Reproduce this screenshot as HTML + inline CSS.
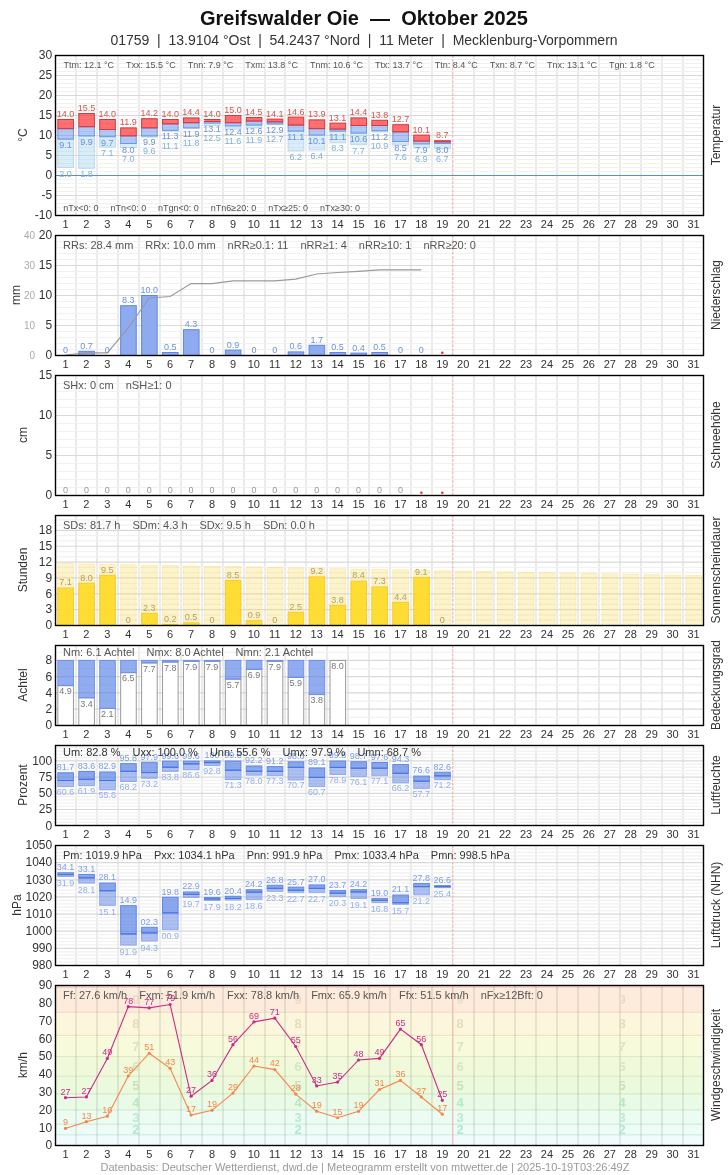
<!DOCTYPE html>
<html><head><meta charset="utf-8"><title>Greifswalder Oie — Oktober 2025</title><style>html,body{margin:0;padding:0;background:#fff;width:728px;height:1175px;overflow:hidden}svg{display:block;will-change:transform}</style></head><body>
<svg width="728" height="1175" viewBox="0 0 728 1175" font-family='"Liberation Sans", Arial, sans-serif'>
<rect width="728" height="1175" fill="#fff"/>
<text x="364" y="24.8" font-size="20" font-weight="bold" fill="#111" text-anchor="middle" xml:space="preserve">Greifswalder Oie  —  Oktober 2025</text>
<text x="364" y="44.6" font-size="14" fill="#333" text-anchor="middle" xml:space="preserve">01759  |  13.9104 °Ost  |  54.2437 °Nord  |  11 Meter  |  Mecklenburg-Vorpommern</text>
<line x1="76" y1="55" x2="76" y2="215" stroke="#ebebeb" stroke-width="2"/>
<line x1="97" y1="55" x2="97" y2="215" stroke="#ebebeb" stroke-width="2"/>
<line x1="118" y1="55" x2="118" y2="215" stroke="#ebebeb" stroke-width="2"/>
<line x1="139" y1="55" x2="139" y2="215" stroke="#ebebeb" stroke-width="2"/>
<line x1="160" y1="55" x2="160" y2="215" stroke="#ebebeb" stroke-width="2"/>
<line x1="181" y1="55" x2="181" y2="215" stroke="#ebebeb" stroke-width="2"/>
<line x1="202" y1="55" x2="202" y2="215" stroke="#ebebeb" stroke-width="2"/>
<line x1="223" y1="55" x2="223" y2="215" stroke="#ebebeb" stroke-width="2"/>
<line x1="244" y1="55" x2="244" y2="215" stroke="#ebebeb" stroke-width="2"/>
<line x1="265" y1="55" x2="265" y2="215" stroke="#ebebeb" stroke-width="2"/>
<line x1="285" y1="55" x2="285" y2="215" stroke="#ebebeb" stroke-width="2"/>
<line x1="306" y1="55" x2="306" y2="215" stroke="#ebebeb" stroke-width="2"/>
<line x1="327" y1="55" x2="327" y2="215" stroke="#ebebeb" stroke-width="2"/>
<line x1="348" y1="55" x2="348" y2="215" stroke="#ebebeb" stroke-width="2"/>
<line x1="369" y1="55" x2="369" y2="215" stroke="#ebebeb" stroke-width="2"/>
<line x1="390" y1="55" x2="390" y2="215" stroke="#ebebeb" stroke-width="2"/>
<line x1="411" y1="55" x2="411" y2="215" stroke="#ebebeb" stroke-width="2"/>
<line x1="432" y1="55" x2="432" y2="215" stroke="#ebebeb" stroke-width="2"/>
<line x1="474" y1="55" x2="474" y2="215" stroke="#ebebeb" stroke-width="2"/>
<line x1="494" y1="55" x2="494" y2="215" stroke="#ebebeb" stroke-width="2"/>
<line x1="515" y1="55" x2="515" y2="215" stroke="#ebebeb" stroke-width="2"/>
<line x1="536" y1="55" x2="536" y2="215" stroke="#ebebeb" stroke-width="2"/>
<line x1="557" y1="55" x2="557" y2="215" stroke="#ebebeb" stroke-width="2"/>
<line x1="578" y1="55" x2="578" y2="215" stroke="#ebebeb" stroke-width="2"/>
<line x1="599" y1="55" x2="599" y2="215" stroke="#ebebeb" stroke-width="2"/>
<line x1="620" y1="55" x2="620" y2="215" stroke="#ebebeb" stroke-width="2"/>
<line x1="641" y1="55" x2="641" y2="215" stroke="#ebebeb" stroke-width="2"/>
<line x1="662" y1="55" x2="662" y2="215" stroke="#ebebeb" stroke-width="2"/>
<line x1="683" y1="55" x2="683" y2="215" stroke="#ebebeb" stroke-width="2"/>
<line x1="57.0" y1="211.50" x2="702.0" y2="211.50" stroke="#f1f1f1" stroke-width="1.2"/>
<line x1="57.0" y1="207.50" x2="702.0" y2="207.50" stroke="#f1f1f1" stroke-width="1.2"/>
<line x1="57.0" y1="203.50" x2="702.0" y2="203.50" stroke="#f1f1f1" stroke-width="1.2"/>
<line x1="57.0" y1="199.50" x2="702.0" y2="199.50" stroke="#f1f1f1" stroke-width="1.2"/>
<line x1="57.0" y1="191.50" x2="702.0" y2="191.50" stroke="#f1f1f1" stroke-width="1.2"/>
<line x1="57.0" y1="187.50" x2="702.0" y2="187.50" stroke="#f1f1f1" stroke-width="1.2"/>
<line x1="57.0" y1="183.50" x2="702.0" y2="183.50" stroke="#f1f1f1" stroke-width="1.2"/>
<line x1="57.0" y1="179.50" x2="702.0" y2="179.50" stroke="#f1f1f1" stroke-width="1.2"/>
<line x1="57.0" y1="171.50" x2="702.0" y2="171.50" stroke="#f1f1f1" stroke-width="1.2"/>
<line x1="57.0" y1="167.50" x2="702.0" y2="167.50" stroke="#f1f1f1" stroke-width="1.2"/>
<line x1="57.0" y1="163.50" x2="702.0" y2="163.50" stroke="#f1f1f1" stroke-width="1.2"/>
<line x1="57.0" y1="159.50" x2="702.0" y2="159.50" stroke="#f1f1f1" stroke-width="1.2"/>
<line x1="57.0" y1="151.50" x2="702.0" y2="151.50" stroke="#f1f1f1" stroke-width="1.2"/>
<line x1="57.0" y1="147.50" x2="702.0" y2="147.50" stroke="#f1f1f1" stroke-width="1.2"/>
<line x1="57.0" y1="143.50" x2="702.0" y2="143.50" stroke="#f1f1f1" stroke-width="1.2"/>
<line x1="57.0" y1="139.50" x2="702.0" y2="139.50" stroke="#f1f1f1" stroke-width="1.2"/>
<line x1="57.0" y1="131.50" x2="702.0" y2="131.50" stroke="#f1f1f1" stroke-width="1.2"/>
<line x1="57.0" y1="127.50" x2="702.0" y2="127.50" stroke="#f1f1f1" stroke-width="1.2"/>
<line x1="57.0" y1="123.50" x2="702.0" y2="123.50" stroke="#f1f1f1" stroke-width="1.2"/>
<line x1="57.0" y1="119.50" x2="702.0" y2="119.50" stroke="#f1f1f1" stroke-width="1.2"/>
<line x1="57.0" y1="111.50" x2="702.0" y2="111.50" stroke="#f1f1f1" stroke-width="1.2"/>
<line x1="57.0" y1="107.50" x2="702.0" y2="107.50" stroke="#f1f1f1" stroke-width="1.2"/>
<line x1="57.0" y1="103.50" x2="702.0" y2="103.50" stroke="#f1f1f1" stroke-width="1.2"/>
<line x1="57.0" y1="99.50" x2="702.0" y2="99.50" stroke="#f1f1f1" stroke-width="1.2"/>
<line x1="57.0" y1="91.50" x2="702.0" y2="91.50" stroke="#f1f1f1" stroke-width="1.2"/>
<line x1="57.0" y1="87.50" x2="702.0" y2="87.50" stroke="#f1f1f1" stroke-width="1.2"/>
<line x1="57.0" y1="83.50" x2="702.0" y2="83.50" stroke="#f1f1f1" stroke-width="1.2"/>
<line x1="57.0" y1="79.50" x2="702.0" y2="79.50" stroke="#f1f1f1" stroke-width="1.2"/>
<line x1="57.0" y1="71.50" x2="702.0" y2="71.50" stroke="#f1f1f1" stroke-width="1.2"/>
<line x1="57.0" y1="67.50" x2="702.0" y2="67.50" stroke="#f1f1f1" stroke-width="1.2"/>
<line x1="57.0" y1="63.50" x2="702.0" y2="63.50" stroke="#f1f1f1" stroke-width="1.2"/>
<line x1="57.0" y1="59.50" x2="702.0" y2="59.50" stroke="#f1f1f1" stroke-width="1.2"/>
<line x1="55.0" y1="195.50" x2="704.0" y2="195.50" stroke="#d9d9d9" stroke-width="1.2"/>
<line x1="55.0" y1="175.50" x2="704.0" y2="175.50" stroke="#d9d9d9" stroke-width="1.2"/>
<line x1="55.0" y1="155.50" x2="704.0" y2="155.50" stroke="#d9d9d9" stroke-width="1.2"/>
<line x1="55.0" y1="135.50" x2="704.0" y2="135.50" stroke="#d9d9d9" stroke-width="1.2"/>
<line x1="55.0" y1="115.50" x2="704.0" y2="115.50" stroke="#d9d9d9" stroke-width="1.2"/>
<line x1="55.0" y1="95.50" x2="704.0" y2="95.50" stroke="#d9d9d9" stroke-width="1.2"/>
<line x1="55.0" y1="75.50" x2="704.0" y2="75.50" stroke="#d9d9d9" stroke-width="1.2"/>
<line x1="452.77" y1="55" x2="452.77" y2="215" stroke="#f3adad" stroke-width="1.1" stroke-dasharray="3,1.2"/>
<line x1="55.0" y1="175.50" x2="704.0" y2="175.50" stroke="#5a8ae6" stroke-width="1.2"/>
<rect x="57.85" y="139.10" width="15.6" height="28.40" fill="rgba(170,214,240,0.45)" stroke="#b8daee" stroke-width="1"/>
<rect x="57.85" y="128.70" width="15.6" height="10.40" fill="rgba(100,145,235,0.5)" stroke="#6f96e6" stroke-width="1"/>
<rect x="57.85" y="119.50" width="15.6" height="9.20" fill="rgba(255,40,40,0.67)" stroke="#d0393f" stroke-width="1"/>
<rect x="78.79" y="135.90" width="15.6" height="32.40" fill="rgba(170,214,240,0.45)" stroke="#b8daee" stroke-width="1"/>
<rect x="78.79" y="126.70" width="15.6" height="9.20" fill="rgba(100,145,235,0.5)" stroke="#6f96e6" stroke-width="1"/>
<rect x="78.79" y="113.50" width="15.6" height="13.20" fill="rgba(255,40,40,0.67)" stroke="#d0393f" stroke-width="1"/>
<rect x="99.72" y="136.70" width="15.6" height="10.40" fill="rgba(170,214,240,0.45)" stroke="#b8daee" stroke-width="1"/>
<rect x="99.72" y="129.50" width="15.6" height="7.20" fill="rgba(100,145,235,0.5)" stroke="#6f96e6" stroke-width="1"/>
<rect x="99.72" y="119.50" width="15.6" height="10.00" fill="rgba(255,40,40,0.67)" stroke="#d0393f" stroke-width="1"/>
<rect x="120.66" y="143.50" width="15.6" height="4.00" fill="rgba(170,214,240,0.45)" stroke="#b8daee" stroke-width="1"/>
<rect x="120.66" y="135.90" width="15.6" height="7.60" fill="rgba(100,145,235,0.5)" stroke="#6f96e6" stroke-width="1"/>
<rect x="120.66" y="127.90" width="15.6" height="8.00" fill="rgba(255,40,40,0.67)" stroke="#d0393f" stroke-width="1"/>
<rect x="141.59" y="135.90" width="15.6" height="1.20" fill="rgba(170,214,240,0.45)" stroke="#b8daee" stroke-width="1"/>
<rect x="141.59" y="127.90" width="15.6" height="8.00" fill="rgba(100,145,235,0.5)" stroke="#6f96e6" stroke-width="1"/>
<rect x="141.59" y="118.70" width="15.6" height="9.20" fill="rgba(255,40,40,0.67)" stroke="#d0393f" stroke-width="1"/>
<rect x="162.53" y="130.30" width="15.6" height="0.80" fill="rgba(170,214,240,0.45)" stroke="#b8daee" stroke-width="1"/>
<rect x="162.53" y="123.90" width="15.6" height="6.40" fill="rgba(100,145,235,0.5)" stroke="#6f96e6" stroke-width="1"/>
<rect x="162.53" y="119.50" width="15.6" height="4.40" fill="rgba(255,40,40,0.67)" stroke="#d0393f" stroke-width="1"/>
<rect x="183.46" y="127.90" width="15.6" height="0.40" fill="rgba(170,214,240,0.45)" stroke="#b8daee" stroke-width="1"/>
<rect x="183.46" y="122.70" width="15.6" height="5.20" fill="rgba(100,145,235,0.5)" stroke="#6f96e6" stroke-width="1"/>
<rect x="183.46" y="117.90" width="15.6" height="4.80" fill="rgba(255,40,40,0.67)" stroke="#d0393f" stroke-width="1"/>
<rect x="204.40" y="123.10" width="15.6" height="2.40" fill="rgba(170,214,240,0.45)" stroke="#b8daee" stroke-width="1"/>
<rect x="204.40" y="121.50" width="15.6" height="1.60" fill="rgba(100,145,235,0.5)" stroke="#6f96e6" stroke-width="1"/>
<rect x="204.40" y="119.50" width="15.6" height="2.00" fill="rgba(255,40,40,0.67)" stroke="#d0393f" stroke-width="1"/>
<rect x="225.33" y="125.90" width="15.6" height="3.20" fill="rgba(170,214,240,0.45)" stroke="#b8daee" stroke-width="1"/>
<rect x="225.33" y="122.70" width="15.6" height="3.20" fill="rgba(100,145,235,0.5)" stroke="#6f96e6" stroke-width="1"/>
<rect x="225.33" y="115.50" width="15.6" height="7.20" fill="rgba(255,40,40,0.67)" stroke="#d0393f" stroke-width="1"/>
<rect x="246.27" y="125.10" width="15.6" height="2.80" fill="rgba(170,214,240,0.45)" stroke="#b8daee" stroke-width="1"/>
<rect x="246.27" y="121.10" width="15.6" height="4.00" fill="rgba(100,145,235,0.5)" stroke="#6f96e6" stroke-width="1"/>
<rect x="246.27" y="117.50" width="15.6" height="3.60" fill="rgba(255,40,40,0.67)" stroke="#d0393f" stroke-width="1"/>
<rect x="267.20" y="123.90" width="15.6" height="0.80" fill="rgba(170,214,240,0.45)" stroke="#b8daee" stroke-width="1"/>
<rect x="267.20" y="121.90" width="15.6" height="2.00" fill="rgba(100,145,235,0.5)" stroke="#6f96e6" stroke-width="1"/>
<rect x="267.20" y="119.10" width="15.6" height="2.80" fill="rgba(255,40,40,0.67)" stroke="#d0393f" stroke-width="1"/>
<rect x="288.14" y="131.10" width="15.6" height="19.60" fill="rgba(170,214,240,0.45)" stroke="#b8daee" stroke-width="1"/>
<rect x="288.14" y="125.10" width="15.6" height="6.00" fill="rgba(100,145,235,0.5)" stroke="#6f96e6" stroke-width="1"/>
<rect x="288.14" y="117.10" width="15.6" height="8.00" fill="rgba(255,40,40,0.67)" stroke="#d0393f" stroke-width="1"/>
<rect x="309.08" y="135.10" width="15.6" height="14.80" fill="rgba(170,214,240,0.45)" stroke="#b8daee" stroke-width="1"/>
<rect x="309.08" y="128.70" width="15.6" height="6.40" fill="rgba(100,145,235,0.5)" stroke="#6f96e6" stroke-width="1"/>
<rect x="309.08" y="119.90" width="15.6" height="8.80" fill="rgba(255,40,40,0.67)" stroke="#d0393f" stroke-width="1"/>
<rect x="330.01" y="131.10" width="15.6" height="11.20" fill="rgba(170,214,240,0.45)" stroke="#b8daee" stroke-width="1"/>
<rect x="330.01" y="129.10" width="15.6" height="2.00" fill="rgba(100,145,235,0.5)" stroke="#6f96e6" stroke-width="1"/>
<rect x="330.01" y="123.10" width="15.6" height="6.00" fill="rgba(255,40,40,0.67)" stroke="#d0393f" stroke-width="1"/>
<rect x="350.95" y="133.10" width="15.6" height="11.60" fill="rgba(170,214,240,0.45)" stroke="#b8daee" stroke-width="1"/>
<rect x="350.95" y="125.50" width="15.6" height="7.60" fill="rgba(100,145,235,0.5)" stroke="#6f96e6" stroke-width="1"/>
<rect x="350.95" y="117.90" width="15.6" height="7.60" fill="rgba(255,40,40,0.67)" stroke="#d0393f" stroke-width="1"/>
<rect x="371.88" y="130.70" width="15.6" height="1.20" fill="rgba(170,214,240,0.45)" stroke="#b8daee" stroke-width="1"/>
<rect x="371.88" y="125.50" width="15.6" height="5.20" fill="rgba(100,145,235,0.5)" stroke="#6f96e6" stroke-width="1"/>
<rect x="371.88" y="120.30" width="15.6" height="5.20" fill="rgba(255,40,40,0.67)" stroke="#d0393f" stroke-width="1"/>
<rect x="392.82" y="141.50" width="15.6" height="3.60" fill="rgba(170,214,240,0.45)" stroke="#b8daee" stroke-width="1"/>
<rect x="392.82" y="131.90" width="15.6" height="9.60" fill="rgba(100,145,235,0.5)" stroke="#6f96e6" stroke-width="1"/>
<rect x="392.82" y="124.70" width="15.6" height="7.20" fill="rgba(255,40,40,0.67)" stroke="#d0393f" stroke-width="1"/>
<rect x="413.75" y="143.90" width="15.6" height="4.00" fill="rgba(170,214,240,0.45)" stroke="#b8daee" stroke-width="1"/>
<rect x="413.75" y="141.10" width="15.6" height="2.80" fill="rgba(100,145,235,0.5)" stroke="#6f96e6" stroke-width="1"/>
<rect x="413.75" y="135.10" width="15.6" height="6.00" fill="rgba(255,40,40,0.67)" stroke="#d0393f" stroke-width="1"/>
<rect x="434.69" y="143.50" width="15.6" height="5.20" fill="rgba(170,214,240,0.45)" stroke="#b8daee" stroke-width="1"/>
<rect x="434.69" y="141.90" width="15.6" height="1.60" fill="rgba(100,145,235,0.5)" stroke="#6f96e6" stroke-width="1"/>
<rect x="434.69" y="140.70" width="15.6" height="1.20" fill="rgba(255,40,40,0.67)" stroke="#d0393f" stroke-width="1"/>
<text x="65.47" y="116.90" font-size="9" fill="#d9534f" text-anchor="middle">14.0</text>
<text x="65.47" y="148.20" font-size="9" fill="#6b8fe0" text-anchor="middle">9.1</text>
<text x="65.47" y="176.60" font-size="9" fill="#7fb2d6" text-anchor="middle">2.0</text>
<text x="86.40" y="110.90" font-size="9" fill="#d9534f" text-anchor="middle">15.5</text>
<text x="86.40" y="145.00" font-size="9" fill="#6b8fe0" text-anchor="middle">9.9</text>
<text x="86.40" y="177.40" font-size="9" fill="#7fb2d6" text-anchor="middle">1.8</text>
<text x="107.34" y="116.90" font-size="9" fill="#d9534f" text-anchor="middle">14.0</text>
<text x="107.34" y="145.80" font-size="9" fill="#6b8fe0" text-anchor="middle">9.7</text>
<text x="107.34" y="156.20" font-size="9" fill="#7fb2d6" text-anchor="middle">7.1</text>
<text x="128.27" y="125.30" font-size="9" fill="#d9534f" text-anchor="middle">11.9</text>
<text x="128.27" y="152.60" font-size="9" fill="#6b8fe0" text-anchor="middle">8.0</text>
<text x="128.27" y="161.80" font-size="9" fill="#7fb2d6" text-anchor="middle">7.0</text>
<text x="149.21" y="116.10" font-size="9" fill="#d9534f" text-anchor="middle">14.2</text>
<text x="149.21" y="145.00" font-size="9" fill="#6b8fe0" text-anchor="middle">9.9</text>
<text x="149.21" y="154.20" font-size="9" fill="#7fb2d6" text-anchor="middle">9.6</text>
<text x="170.15" y="116.90" font-size="9" fill="#d9534f" text-anchor="middle">14.0</text>
<text x="170.15" y="139.40" font-size="9" fill="#6b8fe0" text-anchor="middle">11.3</text>
<text x="170.15" y="148.60" font-size="9" fill="#7fb2d6" text-anchor="middle">11.1</text>
<text x="191.08" y="115.30" font-size="9" fill="#d9534f" text-anchor="middle">14.4</text>
<text x="191.08" y="137.00" font-size="9" fill="#6b8fe0" text-anchor="middle">11.9</text>
<text x="191.08" y="146.20" font-size="9" fill="#7fb2d6" text-anchor="middle">11.8</text>
<text x="212.02" y="116.90" font-size="9" fill="#d9534f" text-anchor="middle">14.0</text>
<text x="212.02" y="132.20" font-size="9" fill="#6b8fe0" text-anchor="middle">13.1</text>
<text x="212.02" y="141.40" font-size="9" fill="#7fb2d6" text-anchor="middle">12.5</text>
<text x="232.95" y="112.90" font-size="9" fill="#d9534f" text-anchor="middle">15.0</text>
<text x="232.95" y="135.00" font-size="9" fill="#6b8fe0" text-anchor="middle">12.4</text>
<text x="232.95" y="144.20" font-size="9" fill="#7fb2d6" text-anchor="middle">11.6</text>
<text x="253.89" y="114.90" font-size="9" fill="#d9534f" text-anchor="middle">14.5</text>
<text x="253.89" y="134.20" font-size="9" fill="#6b8fe0" text-anchor="middle">12.6</text>
<text x="253.89" y="143.40" font-size="9" fill="#7fb2d6" text-anchor="middle">11.9</text>
<text x="274.82" y="116.50" font-size="9" fill="#d9534f" text-anchor="middle">14.1</text>
<text x="274.82" y="133.00" font-size="9" fill="#6b8fe0" text-anchor="middle">12.9</text>
<text x="274.82" y="142.20" font-size="9" fill="#7fb2d6" text-anchor="middle">12.7</text>
<text x="295.76" y="114.50" font-size="9" fill="#d9534f" text-anchor="middle">14.6</text>
<text x="295.76" y="140.20" font-size="9" fill="#6b8fe0" text-anchor="middle">11.1</text>
<text x="295.76" y="159.80" font-size="9" fill="#7fb2d6" text-anchor="middle">6.2</text>
<text x="316.69" y="117.30" font-size="9" fill="#d9534f" text-anchor="middle">13.9</text>
<text x="316.69" y="144.20" font-size="9" fill="#6b8fe0" text-anchor="middle">10.1</text>
<text x="316.69" y="159.00" font-size="9" fill="#7fb2d6" text-anchor="middle">6.4</text>
<text x="337.63" y="120.50" font-size="9" fill="#d9534f" text-anchor="middle">13.1</text>
<text x="337.63" y="140.20" font-size="9" fill="#6b8fe0" text-anchor="middle">11.1</text>
<text x="337.63" y="151.40" font-size="9" fill="#7fb2d6" text-anchor="middle">8.3</text>
<text x="358.56" y="115.30" font-size="9" fill="#d9534f" text-anchor="middle">14.4</text>
<text x="358.56" y="142.20" font-size="9" fill="#6b8fe0" text-anchor="middle">10.6</text>
<text x="358.56" y="153.80" font-size="9" fill="#7fb2d6" text-anchor="middle">7.7</text>
<text x="379.50" y="117.70" font-size="9" fill="#d9534f" text-anchor="middle">13.8</text>
<text x="379.50" y="139.80" font-size="9" fill="#6b8fe0" text-anchor="middle">11.2</text>
<text x="379.50" y="149.00" font-size="9" fill="#7fb2d6" text-anchor="middle">10.9</text>
<text x="400.44" y="122.10" font-size="9" fill="#d9534f" text-anchor="middle">12.7</text>
<text x="400.44" y="150.60" font-size="9" fill="#6b8fe0" text-anchor="middle">8.5</text>
<text x="400.44" y="159.80" font-size="9" fill="#7fb2d6" text-anchor="middle">7.6</text>
<text x="421.37" y="132.50" font-size="9" fill="#d9534f" text-anchor="middle">10.1</text>
<text x="421.37" y="153.00" font-size="9" fill="#6b8fe0" text-anchor="middle">7.9</text>
<text x="421.37" y="162.20" font-size="9" fill="#7fb2d6" text-anchor="middle">6.9</text>
<text x="442.31" y="138.10" font-size="9" fill="#d9534f" text-anchor="middle">8.7</text>
<text x="442.31" y="152.60" font-size="9" fill="#6b8fe0" text-anchor="middle">8.0</text>
<text x="442.31" y="161.80" font-size="9" fill="#7fb2d6" text-anchor="middle">6.7</text>
<text x="63.4" y="67.6" font-size="9" fill="#555" xml:space="preserve"><tspan>Ttm: 12.1 °C</tspan><tspan dx="12.0">Txx: 15.5 °C</tspan><tspan dx="12.0">Tnn: 7.9 °C</tspan><tspan dx="12.0">Txm: 13.8 °C</tspan><tspan dx="12.0">Tnm: 10.6 °C</tspan><tspan dx="12.0">Ttx: 13.7 °C</tspan><tspan dx="12.0">Ttn: 8.4 °C</tspan><tspan dx="12.0">Txn: 8.7 °C</tspan><tspan dx="12.0">Tnx: 13.1 °C</tspan><tspan dx="12.0">Tgn: 1.8 °C</tspan></text>
<text x="63.2" y="210.8" font-size="9" fill="#555" xml:space="preserve"><tspan>nTx&lt;0: 0</tspan><tspan dx="11.9">nTn&lt;0: 0</tspan><tspan dx="11.9">nTgn&lt;0: 0</tspan><tspan dx="11.9">nTn6≥20: 0</tspan><tspan dx="11.9">nTx≥25: 0</tspan><tspan dx="11.9">nTx≥30: 0</tspan></text>
<rect x="55.5" y="55.5" width="648.0" height="160" fill="none" stroke="#000" stroke-width="1.4"/>
<text x="52.2" y="59.30" font-size="12" fill="#333" text-anchor="end">30</text>
<text x="52.2" y="79.30" font-size="12" fill="#333" text-anchor="end">25</text>
<text x="52.2" y="99.30" font-size="12" fill="#333" text-anchor="end">20</text>
<text x="52.2" y="119.30" font-size="12" fill="#333" text-anchor="end">15</text>
<text x="52.2" y="139.30" font-size="12" fill="#333" text-anchor="end">10</text>
<text x="52.2" y="159.30" font-size="12" fill="#333" text-anchor="end">5</text>
<text x="52.2" y="179.30" font-size="12" fill="#333" text-anchor="end">0</text>
<text x="52.2" y="199.30" font-size="12" fill="#333" text-anchor="end">-5</text>
<text x="52.2" y="219.30" font-size="12" fill="#333" text-anchor="end">-10</text>
<text transform="translate(27.0,135.0) rotate(-90)" font-size="12" fill="#333" text-anchor="middle">°C</text>
<text transform="translate(719.5,135.0) rotate(-90)" font-size="12" fill="#333" text-anchor="middle">Temperatur</text>
<text x="65.47" y="228.0" font-size="11" fill="#333" text-anchor="middle">1</text>
<text x="86.40" y="228.0" font-size="11" fill="#333" text-anchor="middle">2</text>
<text x="107.34" y="228.0" font-size="11" fill="#333" text-anchor="middle">3</text>
<text x="128.27" y="228.0" font-size="11" fill="#333" text-anchor="middle">4</text>
<text x="149.21" y="228.0" font-size="11" fill="#333" text-anchor="middle">5</text>
<text x="170.15" y="228.0" font-size="11" fill="#333" text-anchor="middle">6</text>
<text x="191.08" y="228.0" font-size="11" fill="#333" text-anchor="middle">7</text>
<text x="212.02" y="228.0" font-size="11" fill="#333" text-anchor="middle">8</text>
<text x="232.95" y="228.0" font-size="11" fill="#333" text-anchor="middle">9</text>
<text x="253.89" y="228.0" font-size="11" fill="#333" text-anchor="middle">10</text>
<text x="274.82" y="228.0" font-size="11" fill="#333" text-anchor="middle">11</text>
<text x="295.76" y="228.0" font-size="11" fill="#333" text-anchor="middle">12</text>
<text x="316.69" y="228.0" font-size="11" fill="#333" text-anchor="middle">13</text>
<text x="337.63" y="228.0" font-size="11" fill="#333" text-anchor="middle">14</text>
<text x="358.56" y="228.0" font-size="11" fill="#333" text-anchor="middle">15</text>
<text x="379.50" y="228.0" font-size="11" fill="#333" text-anchor="middle">16</text>
<text x="400.44" y="228.0" font-size="11" fill="#333" text-anchor="middle">17</text>
<text x="421.37" y="228.0" font-size="11" fill="#333" text-anchor="middle">18</text>
<text x="442.31" y="228.0" font-size="11" fill="#333" text-anchor="middle">19</text>
<text x="463.24" y="228.0" font-size="11" fill="#333" text-anchor="middle">20</text>
<text x="484.18" y="228.0" font-size="11" fill="#333" text-anchor="middle">21</text>
<text x="505.11" y="228.0" font-size="11" fill="#333" text-anchor="middle">22</text>
<text x="526.05" y="228.0" font-size="11" fill="#333" text-anchor="middle">23</text>
<text x="546.98" y="228.0" font-size="11" fill="#333" text-anchor="middle">24</text>
<text x="567.92" y="228.0" font-size="11" fill="#333" text-anchor="middle">25</text>
<text x="588.85" y="228.0" font-size="11" fill="#333" text-anchor="middle">26</text>
<text x="609.79" y="228.0" font-size="11" fill="#333" text-anchor="middle">27</text>
<text x="630.73" y="228.0" font-size="11" fill="#333" text-anchor="middle">28</text>
<text x="651.66" y="228.0" font-size="11" fill="#333" text-anchor="middle">29</text>
<text x="672.60" y="228.0" font-size="11" fill="#333" text-anchor="middle">30</text>
<text x="693.53" y="228.0" font-size="11" fill="#333" text-anchor="middle">31</text>
<line x1="76" y1="235" x2="76" y2="355" stroke="#ebebeb" stroke-width="2"/>
<line x1="97" y1="235" x2="97" y2="355" stroke="#ebebeb" stroke-width="2"/>
<line x1="118" y1="235" x2="118" y2="355" stroke="#ebebeb" stroke-width="2"/>
<line x1="139" y1="235" x2="139" y2="355" stroke="#ebebeb" stroke-width="2"/>
<line x1="160" y1="235" x2="160" y2="355" stroke="#ebebeb" stroke-width="2"/>
<line x1="181" y1="235" x2="181" y2="355" stroke="#ebebeb" stroke-width="2"/>
<line x1="202" y1="235" x2="202" y2="355" stroke="#ebebeb" stroke-width="2"/>
<line x1="223" y1="235" x2="223" y2="355" stroke="#ebebeb" stroke-width="2"/>
<line x1="244" y1="235" x2="244" y2="355" stroke="#ebebeb" stroke-width="2"/>
<line x1="265" y1="235" x2="265" y2="355" stroke="#ebebeb" stroke-width="2"/>
<line x1="285" y1="235" x2="285" y2="355" stroke="#ebebeb" stroke-width="2"/>
<line x1="306" y1="235" x2="306" y2="355" stroke="#ebebeb" stroke-width="2"/>
<line x1="327" y1="235" x2="327" y2="355" stroke="#ebebeb" stroke-width="2"/>
<line x1="348" y1="235" x2="348" y2="355" stroke="#ebebeb" stroke-width="2"/>
<line x1="369" y1="235" x2="369" y2="355" stroke="#ebebeb" stroke-width="2"/>
<line x1="390" y1="235" x2="390" y2="355" stroke="#ebebeb" stroke-width="2"/>
<line x1="411" y1="235" x2="411" y2="355" stroke="#ebebeb" stroke-width="2"/>
<line x1="432" y1="235" x2="432" y2="355" stroke="#ebebeb" stroke-width="2"/>
<line x1="474" y1="235" x2="474" y2="355" stroke="#ebebeb" stroke-width="2"/>
<line x1="494" y1="235" x2="494" y2="355" stroke="#ebebeb" stroke-width="2"/>
<line x1="515" y1="235" x2="515" y2="355" stroke="#ebebeb" stroke-width="2"/>
<line x1="536" y1="235" x2="536" y2="355" stroke="#ebebeb" stroke-width="2"/>
<line x1="557" y1="235" x2="557" y2="355" stroke="#ebebeb" stroke-width="2"/>
<line x1="578" y1="235" x2="578" y2="355" stroke="#ebebeb" stroke-width="2"/>
<line x1="599" y1="235" x2="599" y2="355" stroke="#ebebeb" stroke-width="2"/>
<line x1="620" y1="235" x2="620" y2="355" stroke="#ebebeb" stroke-width="2"/>
<line x1="641" y1="235" x2="641" y2="355" stroke="#ebebeb" stroke-width="2"/>
<line x1="662" y1="235" x2="662" y2="355" stroke="#ebebeb" stroke-width="2"/>
<line x1="683" y1="235" x2="683" y2="355" stroke="#ebebeb" stroke-width="2"/>
<line x1="57.0" y1="349.50" x2="702.0" y2="349.50" stroke="#f1f1f1" stroke-width="1.2"/>
<line x1="57.0" y1="343.50" x2="702.0" y2="343.50" stroke="#f1f1f1" stroke-width="1.2"/>
<line x1="57.0" y1="337.50" x2="702.0" y2="337.50" stroke="#f1f1f1" stroke-width="1.2"/>
<line x1="57.0" y1="331.50" x2="702.0" y2="331.50" stroke="#f1f1f1" stroke-width="1.2"/>
<line x1="57.0" y1="319.50" x2="702.0" y2="319.50" stroke="#f1f1f1" stroke-width="1.2"/>
<line x1="57.0" y1="313.50" x2="702.0" y2="313.50" stroke="#f1f1f1" stroke-width="1.2"/>
<line x1="57.0" y1="307.50" x2="702.0" y2="307.50" stroke="#f1f1f1" stroke-width="1.2"/>
<line x1="57.0" y1="301.50" x2="702.0" y2="301.50" stroke="#f1f1f1" stroke-width="1.2"/>
<line x1="57.0" y1="289.50" x2="702.0" y2="289.50" stroke="#f1f1f1" stroke-width="1.2"/>
<line x1="57.0" y1="283.50" x2="702.0" y2="283.50" stroke="#f1f1f1" stroke-width="1.2"/>
<line x1="57.0" y1="277.50" x2="702.0" y2="277.50" stroke="#f1f1f1" stroke-width="1.2"/>
<line x1="57.0" y1="271.50" x2="702.0" y2="271.50" stroke="#f1f1f1" stroke-width="1.2"/>
<line x1="57.0" y1="259.50" x2="702.0" y2="259.50" stroke="#f1f1f1" stroke-width="1.2"/>
<line x1="57.0" y1="253.50" x2="702.0" y2="253.50" stroke="#f1f1f1" stroke-width="1.2"/>
<line x1="57.0" y1="247.50" x2="702.0" y2="247.50" stroke="#f1f1f1" stroke-width="1.2"/>
<line x1="57.0" y1="241.50" x2="702.0" y2="241.50" stroke="#f1f1f1" stroke-width="1.2"/>
<line x1="55.0" y1="325.50" x2="704.0" y2="325.50" stroke="#d9d9d9" stroke-width="1.2"/>
<line x1="55.0" y1="295.50" x2="704.0" y2="295.50" stroke="#d9d9d9" stroke-width="1.2"/>
<line x1="55.0" y1="265.50" x2="704.0" y2="265.50" stroke="#d9d9d9" stroke-width="1.2"/>
<line x1="452.77" y1="235" x2="452.77" y2="355" stroke="#f3adad" stroke-width="1.1" stroke-dasharray="3,1.2"/>
<rect x="78.79" y="351.30" width="15.6" height="4.20" fill="#8eabf0" stroke="#5f86e4" stroke-width="1"/>
<rect x="120.66" y="305.70" width="15.6" height="49.80" fill="#8eabf0" stroke="#5f86e4" stroke-width="1"/>
<rect x="141.59" y="295.50" width="15.6" height="60.00" fill="#8eabf0" stroke="#5f86e4" stroke-width="1"/>
<rect x="162.53" y="352.50" width="15.6" height="3.00" fill="#8eabf0" stroke="#5f86e4" stroke-width="1"/>
<rect x="183.46" y="329.70" width="15.6" height="25.80" fill="#8eabf0" stroke="#5f86e4" stroke-width="1"/>
<rect x="225.33" y="350.10" width="15.6" height="5.40" fill="#8eabf0" stroke="#5f86e4" stroke-width="1"/>
<rect x="288.14" y="351.90" width="15.6" height="3.60" fill="#8eabf0" stroke="#5f86e4" stroke-width="1"/>
<rect x="309.08" y="345.30" width="15.6" height="10.20" fill="#8eabf0" stroke="#5f86e4" stroke-width="1"/>
<rect x="330.01" y="352.50" width="15.6" height="3.00" fill="#8eabf0" stroke="#5f86e4" stroke-width="1"/>
<rect x="350.95" y="353.10" width="15.6" height="2.40" fill="#8eabf0" stroke="#5f86e4" stroke-width="1"/>
<rect x="371.88" y="352.50" width="15.6" height="3.00" fill="#8eabf0" stroke="#5f86e4" stroke-width="1"/>
<polyline points="65.47,355.00 86.40,352.90 107.34,352.90 128.27,328.00 149.21,298.00 170.15,296.50 191.08,283.60 212.02,283.60 232.95,280.90 253.89,280.90 274.82,280.90 295.76,279.10 316.69,274.00 337.63,272.50 358.56,271.30 379.50,269.80 400.44,269.80 421.37,269.80" fill="none" stroke="#999" stroke-width="1.2"/>
<text x="65.47" y="352.90" font-size="9" fill="#6d8fe8" text-anchor="middle">0</text>
<text x="86.40" y="348.70" font-size="9" fill="#6d8fe8" text-anchor="middle">0.7</text>
<text x="107.34" y="352.90" font-size="9" fill="#6d8fe8" text-anchor="middle">0</text>
<text x="128.27" y="303.10" font-size="9" fill="#6d8fe8" text-anchor="middle">8.3</text>
<text x="149.21" y="292.90" font-size="9" fill="#6d8fe8" text-anchor="middle">10.0</text>
<text x="170.15" y="349.90" font-size="9" fill="#6d8fe8" text-anchor="middle">0.5</text>
<text x="191.08" y="327.10" font-size="9" fill="#6d8fe8" text-anchor="middle">4.3</text>
<text x="212.02" y="352.90" font-size="9" fill="#6d8fe8" text-anchor="middle">0</text>
<text x="232.95" y="347.50" font-size="9" fill="#6d8fe8" text-anchor="middle">0.9</text>
<text x="253.89" y="352.90" font-size="9" fill="#6d8fe8" text-anchor="middle">0</text>
<text x="274.82" y="352.90" font-size="9" fill="#6d8fe8" text-anchor="middle">0</text>
<text x="295.76" y="349.30" font-size="9" fill="#6d8fe8" text-anchor="middle">0.6</text>
<text x="316.69" y="342.70" font-size="9" fill="#6d8fe8" text-anchor="middle">1.7</text>
<text x="337.63" y="349.90" font-size="9" fill="#6d8fe8" text-anchor="middle">0.5</text>
<text x="358.56" y="350.50" font-size="9" fill="#6d8fe8" text-anchor="middle">0.4</text>
<text x="379.50" y="349.90" font-size="9" fill="#6d8fe8" text-anchor="middle">0.5</text>
<text x="400.44" y="352.90" font-size="9" fill="#6d8fe8" text-anchor="middle">0</text>
<text x="421.37" y="352.90" font-size="9" fill="#6d8fe8" text-anchor="middle">0</text>
<circle cx="442.31" cy="352.8" r="1.3" fill="#f03030"/>
<text x="63.0" y="248.7" font-size="11" fill="#555" xml:space="preserve"><tspan>RRs: 28.4 mm</tspan><tspan dx="12.0">RRx: 10.0 mm</tspan><tspan dx="12.0">nRR≥0.1: 11</tspan><tspan dx="12.0">nRR≥1: 4</tspan><tspan dx="12.0">nRR≥10: 1</tspan><tspan dx="12.0">nRR≥20: 0</tspan></text>
<rect x="55.5" y="235.5" width="648.0" height="120" fill="none" stroke="#000" stroke-width="1.4"/>
<text x="52.2" y="239.30" font-size="12" fill="#333" text-anchor="end">20</text>
<text x="52.2" y="269.30" font-size="12" fill="#333" text-anchor="end">15</text>
<text x="52.2" y="299.30" font-size="12" fill="#333" text-anchor="end">10</text>
<text x="52.2" y="329.30" font-size="12" fill="#333" text-anchor="end">5</text>
<text x="52.2" y="359.30" font-size="12" fill="#333" text-anchor="end">0</text>
<text x="35" y="239.30" font-size="10" fill="#aaa" text-anchor="end">40</text>
<text x="35" y="269.30" font-size="10" fill="#aaa" text-anchor="end">30</text>
<text x="35" y="299.30" font-size="10" fill="#aaa" text-anchor="end">20</text>
<text x="35" y="329.30" font-size="10" fill="#aaa" text-anchor="end">10</text>
<text x="35" y="359.30" font-size="10" fill="#aaa" text-anchor="end">0</text>
<text transform="translate(20.3,295.0) rotate(-90)" font-size="12" fill="#333" text-anchor="middle">mm</text>
<text transform="translate(719.5,295.0) rotate(-90)" font-size="12" fill="#333" text-anchor="middle">Niederschlag</text>
<text x="65.47" y="368.0" font-size="11" fill="#333" text-anchor="middle">1</text>
<text x="86.40" y="368.0" font-size="11" fill="#333" text-anchor="middle">2</text>
<text x="107.34" y="368.0" font-size="11" fill="#333" text-anchor="middle">3</text>
<text x="128.27" y="368.0" font-size="11" fill="#333" text-anchor="middle">4</text>
<text x="149.21" y="368.0" font-size="11" fill="#333" text-anchor="middle">5</text>
<text x="170.15" y="368.0" font-size="11" fill="#333" text-anchor="middle">6</text>
<text x="191.08" y="368.0" font-size="11" fill="#333" text-anchor="middle">7</text>
<text x="212.02" y="368.0" font-size="11" fill="#333" text-anchor="middle">8</text>
<text x="232.95" y="368.0" font-size="11" fill="#333" text-anchor="middle">9</text>
<text x="253.89" y="368.0" font-size="11" fill="#333" text-anchor="middle">10</text>
<text x="274.82" y="368.0" font-size="11" fill="#333" text-anchor="middle">11</text>
<text x="295.76" y="368.0" font-size="11" fill="#333" text-anchor="middle">12</text>
<text x="316.69" y="368.0" font-size="11" fill="#333" text-anchor="middle">13</text>
<text x="337.63" y="368.0" font-size="11" fill="#333" text-anchor="middle">14</text>
<text x="358.56" y="368.0" font-size="11" fill="#333" text-anchor="middle">15</text>
<text x="379.50" y="368.0" font-size="11" fill="#333" text-anchor="middle">16</text>
<text x="400.44" y="368.0" font-size="11" fill="#333" text-anchor="middle">17</text>
<text x="421.37" y="368.0" font-size="11" fill="#333" text-anchor="middle">18</text>
<text x="442.31" y="368.0" font-size="11" fill="#333" text-anchor="middle">19</text>
<text x="463.24" y="368.0" font-size="11" fill="#333" text-anchor="middle">20</text>
<text x="484.18" y="368.0" font-size="11" fill="#333" text-anchor="middle">21</text>
<text x="505.11" y="368.0" font-size="11" fill="#333" text-anchor="middle">22</text>
<text x="526.05" y="368.0" font-size="11" fill="#333" text-anchor="middle">23</text>
<text x="546.98" y="368.0" font-size="11" fill="#333" text-anchor="middle">24</text>
<text x="567.92" y="368.0" font-size="11" fill="#333" text-anchor="middle">25</text>
<text x="588.85" y="368.0" font-size="11" fill="#333" text-anchor="middle">26</text>
<text x="609.79" y="368.0" font-size="11" fill="#333" text-anchor="middle">27</text>
<text x="630.73" y="368.0" font-size="11" fill="#333" text-anchor="middle">28</text>
<text x="651.66" y="368.0" font-size="11" fill="#333" text-anchor="middle">29</text>
<text x="672.60" y="368.0" font-size="11" fill="#333" text-anchor="middle">30</text>
<text x="693.53" y="368.0" font-size="11" fill="#333" text-anchor="middle">31</text>
<line x1="76" y1="375" x2="76" y2="495" stroke="#ebebeb" stroke-width="2"/>
<line x1="97" y1="375" x2="97" y2="495" stroke="#ebebeb" stroke-width="2"/>
<line x1="118" y1="375" x2="118" y2="495" stroke="#ebebeb" stroke-width="2"/>
<line x1="139" y1="375" x2="139" y2="495" stroke="#ebebeb" stroke-width="2"/>
<line x1="160" y1="375" x2="160" y2="495" stroke="#ebebeb" stroke-width="2"/>
<line x1="181" y1="375" x2="181" y2="495" stroke="#ebebeb" stroke-width="2"/>
<line x1="202" y1="375" x2="202" y2="495" stroke="#ebebeb" stroke-width="2"/>
<line x1="223" y1="375" x2="223" y2="495" stroke="#ebebeb" stroke-width="2"/>
<line x1="244" y1="375" x2="244" y2="495" stroke="#ebebeb" stroke-width="2"/>
<line x1="265" y1="375" x2="265" y2="495" stroke="#ebebeb" stroke-width="2"/>
<line x1="285" y1="375" x2="285" y2="495" stroke="#ebebeb" stroke-width="2"/>
<line x1="306" y1="375" x2="306" y2="495" stroke="#ebebeb" stroke-width="2"/>
<line x1="327" y1="375" x2="327" y2="495" stroke="#ebebeb" stroke-width="2"/>
<line x1="348" y1="375" x2="348" y2="495" stroke="#ebebeb" stroke-width="2"/>
<line x1="369" y1="375" x2="369" y2="495" stroke="#ebebeb" stroke-width="2"/>
<line x1="390" y1="375" x2="390" y2="495" stroke="#ebebeb" stroke-width="2"/>
<line x1="411" y1="375" x2="411" y2="495" stroke="#ebebeb" stroke-width="2"/>
<line x1="432" y1="375" x2="432" y2="495" stroke="#ebebeb" stroke-width="2"/>
<line x1="474" y1="375" x2="474" y2="495" stroke="#ebebeb" stroke-width="2"/>
<line x1="494" y1="375" x2="494" y2="495" stroke="#ebebeb" stroke-width="2"/>
<line x1="515" y1="375" x2="515" y2="495" stroke="#ebebeb" stroke-width="2"/>
<line x1="536" y1="375" x2="536" y2="495" stroke="#ebebeb" stroke-width="2"/>
<line x1="557" y1="375" x2="557" y2="495" stroke="#ebebeb" stroke-width="2"/>
<line x1="578" y1="375" x2="578" y2="495" stroke="#ebebeb" stroke-width="2"/>
<line x1="599" y1="375" x2="599" y2="495" stroke="#ebebeb" stroke-width="2"/>
<line x1="620" y1="375" x2="620" y2="495" stroke="#ebebeb" stroke-width="2"/>
<line x1="641" y1="375" x2="641" y2="495" stroke="#ebebeb" stroke-width="2"/>
<line x1="662" y1="375" x2="662" y2="495" stroke="#ebebeb" stroke-width="2"/>
<line x1="683" y1="375" x2="683" y2="495" stroke="#ebebeb" stroke-width="2"/>
<line x1="57.0" y1="487.50" x2="702.0" y2="487.50" stroke="#f1f1f1" stroke-width="1.2"/>
<line x1="57.0" y1="479.50" x2="702.0" y2="479.50" stroke="#f1f1f1" stroke-width="1.2"/>
<line x1="57.0" y1="471.50" x2="702.0" y2="471.50" stroke="#f1f1f1" stroke-width="1.2"/>
<line x1="57.0" y1="463.50" x2="702.0" y2="463.50" stroke="#f1f1f1" stroke-width="1.2"/>
<line x1="57.0" y1="447.50" x2="702.0" y2="447.50" stroke="#f1f1f1" stroke-width="1.2"/>
<line x1="57.0" y1="439.50" x2="702.0" y2="439.50" stroke="#f1f1f1" stroke-width="1.2"/>
<line x1="57.0" y1="431.50" x2="702.0" y2="431.50" stroke="#f1f1f1" stroke-width="1.2"/>
<line x1="57.0" y1="423.50" x2="702.0" y2="423.50" stroke="#f1f1f1" stroke-width="1.2"/>
<line x1="57.0" y1="407.50" x2="702.0" y2="407.50" stroke="#f1f1f1" stroke-width="1.2"/>
<line x1="57.0" y1="399.50" x2="702.0" y2="399.50" stroke="#f1f1f1" stroke-width="1.2"/>
<line x1="57.0" y1="391.50" x2="702.0" y2="391.50" stroke="#f1f1f1" stroke-width="1.2"/>
<line x1="57.0" y1="383.50" x2="702.0" y2="383.50" stroke="#f1f1f1" stroke-width="1.2"/>
<line x1="55.0" y1="455.50" x2="704.0" y2="455.50" stroke="#d9d9d9" stroke-width="1.2"/>
<line x1="55.0" y1="415.50" x2="704.0" y2="415.50" stroke="#d9d9d9" stroke-width="1.2"/>
<line x1="452.77" y1="375" x2="452.77" y2="495" stroke="#f3adad" stroke-width="1.1" stroke-dasharray="3,1.2"/>
<text x="65.47" y="492.50" font-size="9" fill="#999" text-anchor="middle">0</text>
<text x="86.40" y="492.50" font-size="9" fill="#999" text-anchor="middle">0</text>
<text x="107.34" y="492.50" font-size="9" fill="#999" text-anchor="middle">0</text>
<text x="128.27" y="492.50" font-size="9" fill="#999" text-anchor="middle">0</text>
<text x="149.21" y="492.50" font-size="9" fill="#999" text-anchor="middle">0</text>
<text x="170.15" y="492.50" font-size="9" fill="#999" text-anchor="middle">0</text>
<text x="191.08" y="492.50" font-size="9" fill="#999" text-anchor="middle">0</text>
<text x="212.02" y="492.50" font-size="9" fill="#999" text-anchor="middle">0</text>
<text x="232.95" y="492.50" font-size="9" fill="#999" text-anchor="middle">0</text>
<text x="253.89" y="492.50" font-size="9" fill="#999" text-anchor="middle">0</text>
<text x="274.82" y="492.50" font-size="9" fill="#999" text-anchor="middle">0</text>
<text x="295.76" y="492.50" font-size="9" fill="#999" text-anchor="middle">0</text>
<text x="316.69" y="492.50" font-size="9" fill="#999" text-anchor="middle">0</text>
<text x="337.63" y="492.50" font-size="9" fill="#999" text-anchor="middle">0</text>
<text x="358.56" y="492.50" font-size="9" fill="#999" text-anchor="middle">0</text>
<text x="379.50" y="492.50" font-size="9" fill="#999" text-anchor="middle">0</text>
<text x="400.44" y="492.50" font-size="9" fill="#999" text-anchor="middle">0</text>
<circle cx="421.37" cy="492.7" r="1.3" fill="#f03030"/>
<circle cx="442.31" cy="492.7" r="1.3" fill="#f03030"/>
<text x="63.0" y="389.0" font-size="11" fill="#555" xml:space="preserve"><tspan>SHx: 0 cm</tspan><tspan dx="12.0">nSH≥1: 0</tspan></text>
<rect x="55.5" y="375.5" width="648.0" height="120" fill="none" stroke="#000" stroke-width="1.4"/>
<text x="52.2" y="379.30" font-size="12" fill="#333" text-anchor="end">15</text>
<text x="52.2" y="419.30" font-size="12" fill="#333" text-anchor="end">10</text>
<text x="52.2" y="459.30" font-size="12" fill="#333" text-anchor="end">5</text>
<text x="52.2" y="499.30" font-size="12" fill="#333" text-anchor="end">0</text>
<text transform="translate(27.0,435.0) rotate(-90)" font-size="12" fill="#333" text-anchor="middle">cm</text>
<text transform="translate(719.5,435.0) rotate(-90)" font-size="12" fill="#333" text-anchor="middle">Schneehöhe</text>
<text x="65.47" y="508.0" font-size="11" fill="#333" text-anchor="middle">1</text>
<text x="86.40" y="508.0" font-size="11" fill="#333" text-anchor="middle">2</text>
<text x="107.34" y="508.0" font-size="11" fill="#333" text-anchor="middle">3</text>
<text x="128.27" y="508.0" font-size="11" fill="#333" text-anchor="middle">4</text>
<text x="149.21" y="508.0" font-size="11" fill="#333" text-anchor="middle">5</text>
<text x="170.15" y="508.0" font-size="11" fill="#333" text-anchor="middle">6</text>
<text x="191.08" y="508.0" font-size="11" fill="#333" text-anchor="middle">7</text>
<text x="212.02" y="508.0" font-size="11" fill="#333" text-anchor="middle">8</text>
<text x="232.95" y="508.0" font-size="11" fill="#333" text-anchor="middle">9</text>
<text x="253.89" y="508.0" font-size="11" fill="#333" text-anchor="middle">10</text>
<text x="274.82" y="508.0" font-size="11" fill="#333" text-anchor="middle">11</text>
<text x="295.76" y="508.0" font-size="11" fill="#333" text-anchor="middle">12</text>
<text x="316.69" y="508.0" font-size="11" fill="#333" text-anchor="middle">13</text>
<text x="337.63" y="508.0" font-size="11" fill="#333" text-anchor="middle">14</text>
<text x="358.56" y="508.0" font-size="11" fill="#333" text-anchor="middle">15</text>
<text x="379.50" y="508.0" font-size="11" fill="#333" text-anchor="middle">16</text>
<text x="400.44" y="508.0" font-size="11" fill="#333" text-anchor="middle">17</text>
<text x="421.37" y="508.0" font-size="11" fill="#333" text-anchor="middle">18</text>
<text x="442.31" y="508.0" font-size="11" fill="#333" text-anchor="middle">19</text>
<text x="463.24" y="508.0" font-size="11" fill="#333" text-anchor="middle">20</text>
<text x="484.18" y="508.0" font-size="11" fill="#333" text-anchor="middle">21</text>
<text x="505.11" y="508.0" font-size="11" fill="#333" text-anchor="middle">22</text>
<text x="526.05" y="508.0" font-size="11" fill="#333" text-anchor="middle">23</text>
<text x="546.98" y="508.0" font-size="11" fill="#333" text-anchor="middle">24</text>
<text x="567.92" y="508.0" font-size="11" fill="#333" text-anchor="middle">25</text>
<text x="588.85" y="508.0" font-size="11" fill="#333" text-anchor="middle">26</text>
<text x="609.79" y="508.0" font-size="11" fill="#333" text-anchor="middle">27</text>
<text x="630.73" y="508.0" font-size="11" fill="#333" text-anchor="middle">28</text>
<text x="651.66" y="508.0" font-size="11" fill="#333" text-anchor="middle">29</text>
<text x="672.60" y="508.0" font-size="11" fill="#333" text-anchor="middle">30</text>
<text x="693.53" y="508.0" font-size="11" fill="#333" text-anchor="middle">31</text>
<line x1="76" y1="515" x2="76" y2="625" stroke="#ebebeb" stroke-width="2"/>
<line x1="97" y1="515" x2="97" y2="625" stroke="#ebebeb" stroke-width="2"/>
<line x1="118" y1="515" x2="118" y2="625" stroke="#ebebeb" stroke-width="2"/>
<line x1="139" y1="515" x2="139" y2="625" stroke="#ebebeb" stroke-width="2"/>
<line x1="160" y1="515" x2="160" y2="625" stroke="#ebebeb" stroke-width="2"/>
<line x1="181" y1="515" x2="181" y2="625" stroke="#ebebeb" stroke-width="2"/>
<line x1="202" y1="515" x2="202" y2="625" stroke="#ebebeb" stroke-width="2"/>
<line x1="223" y1="515" x2="223" y2="625" stroke="#ebebeb" stroke-width="2"/>
<line x1="244" y1="515" x2="244" y2="625" stroke="#ebebeb" stroke-width="2"/>
<line x1="265" y1="515" x2="265" y2="625" stroke="#ebebeb" stroke-width="2"/>
<line x1="285" y1="515" x2="285" y2="625" stroke="#ebebeb" stroke-width="2"/>
<line x1="306" y1="515" x2="306" y2="625" stroke="#ebebeb" stroke-width="2"/>
<line x1="327" y1="515" x2="327" y2="625" stroke="#ebebeb" stroke-width="2"/>
<line x1="348" y1="515" x2="348" y2="625" stroke="#ebebeb" stroke-width="2"/>
<line x1="369" y1="515" x2="369" y2="625" stroke="#ebebeb" stroke-width="2"/>
<line x1="390" y1="515" x2="390" y2="625" stroke="#ebebeb" stroke-width="2"/>
<line x1="411" y1="515" x2="411" y2="625" stroke="#ebebeb" stroke-width="2"/>
<line x1="432" y1="515" x2="432" y2="625" stroke="#ebebeb" stroke-width="2"/>
<line x1="474" y1="515" x2="474" y2="625" stroke="#ebebeb" stroke-width="2"/>
<line x1="494" y1="515" x2="494" y2="625" stroke="#ebebeb" stroke-width="2"/>
<line x1="515" y1="515" x2="515" y2="625" stroke="#ebebeb" stroke-width="2"/>
<line x1="536" y1="515" x2="536" y2="625" stroke="#ebebeb" stroke-width="2"/>
<line x1="557" y1="515" x2="557" y2="625" stroke="#ebebeb" stroke-width="2"/>
<line x1="578" y1="515" x2="578" y2="625" stroke="#ebebeb" stroke-width="2"/>
<line x1="599" y1="515" x2="599" y2="625" stroke="#ebebeb" stroke-width="2"/>
<line x1="620" y1="515" x2="620" y2="625" stroke="#ebebeb" stroke-width="2"/>
<line x1="641" y1="515" x2="641" y2="625" stroke="#ebebeb" stroke-width="2"/>
<line x1="662" y1="515" x2="662" y2="625" stroke="#ebebeb" stroke-width="2"/>
<line x1="683" y1="515" x2="683" y2="625" stroke="#ebebeb" stroke-width="2"/>
<line x1="57.0" y1="620.22" x2="702.0" y2="620.22" stroke="#f1f1f1" stroke-width="1.2"/>
<line x1="57.0" y1="614.93" x2="702.0" y2="614.93" stroke="#f1f1f1" stroke-width="1.2"/>
<line x1="57.0" y1="604.37" x2="702.0" y2="604.37" stroke="#f1f1f1" stroke-width="1.2"/>
<line x1="57.0" y1="599.09" x2="702.0" y2="599.09" stroke="#f1f1f1" stroke-width="1.2"/>
<line x1="57.0" y1="588.52" x2="702.0" y2="588.52" stroke="#f1f1f1" stroke-width="1.2"/>
<line x1="57.0" y1="583.24" x2="702.0" y2="583.24" stroke="#f1f1f1" stroke-width="1.2"/>
<line x1="57.0" y1="572.67" x2="702.0" y2="572.67" stroke="#f1f1f1" stroke-width="1.2"/>
<line x1="57.0" y1="567.39" x2="702.0" y2="567.39" stroke="#f1f1f1" stroke-width="1.2"/>
<line x1="57.0" y1="556.82" x2="702.0" y2="556.82" stroke="#f1f1f1" stroke-width="1.2"/>
<line x1="57.0" y1="551.54" x2="702.0" y2="551.54" stroke="#f1f1f1" stroke-width="1.2"/>
<line x1="57.0" y1="540.97" x2="702.0" y2="540.97" stroke="#f1f1f1" stroke-width="1.2"/>
<line x1="57.0" y1="535.69" x2="702.0" y2="535.69" stroke="#f1f1f1" stroke-width="1.2"/>
<line x1="57.0" y1="525.12" x2="702.0" y2="525.12" stroke="#f1f1f1" stroke-width="1.2"/>
<line x1="57.0" y1="519.84" x2="702.0" y2="519.84" stroke="#f1f1f1" stroke-width="1.2"/>
<line x1="55.0" y1="609.65" x2="704.0" y2="609.65" stroke="#d9d9d9" stroke-width="1.2"/>
<line x1="55.0" y1="593.80" x2="704.0" y2="593.80" stroke="#d9d9d9" stroke-width="1.2"/>
<line x1="55.0" y1="577.95" x2="704.0" y2="577.95" stroke="#d9d9d9" stroke-width="1.2"/>
<line x1="55.0" y1="562.10" x2="704.0" y2="562.10" stroke="#d9d9d9" stroke-width="1.2"/>
<line x1="55.0" y1="546.25" x2="704.0" y2="546.25" stroke="#d9d9d9" stroke-width="1.2"/>
<line x1="55.0" y1="530.41" x2="704.0" y2="530.41" stroke="#d9d9d9" stroke-width="1.2"/>
<line x1="452.77" y1="515" x2="452.77" y2="625" stroke="#f3adad" stroke-width="1.1" stroke-dasharray="3,1.2"/>
<rect x="57.85" y="563.58" width="15.6" height="61.92" fill="rgba(250,222,100,0.33)" stroke="rgba(250,215,90,0.35)" stroke-width="1"/>
<rect x="78.79" y="563.98" width="15.6" height="61.52" fill="rgba(250,222,100,0.33)" stroke="rgba(250,215,90,0.35)" stroke-width="1"/>
<rect x="99.72" y="564.38" width="15.6" height="61.12" fill="rgba(250,222,100,0.33)" stroke="rgba(250,215,90,0.35)" stroke-width="1"/>
<rect x="120.66" y="564.77" width="15.6" height="60.73" fill="rgba(250,222,100,0.33)" stroke="rgba(250,215,90,0.35)" stroke-width="1"/>
<rect x="141.59" y="565.17" width="15.6" height="60.33" fill="rgba(250,222,100,0.33)" stroke="rgba(250,215,90,0.35)" stroke-width="1"/>
<rect x="162.53" y="565.56" width="15.6" height="59.94" fill="rgba(250,222,100,0.33)" stroke="rgba(250,215,90,0.35)" stroke-width="1"/>
<rect x="183.46" y="565.96" width="15.6" height="59.54" fill="rgba(250,222,100,0.33)" stroke="rgba(250,215,90,0.35)" stroke-width="1"/>
<rect x="204.40" y="566.36" width="15.6" height="59.14" fill="rgba(250,222,100,0.33)" stroke="rgba(250,215,90,0.35)" stroke-width="1"/>
<rect x="225.33" y="566.75" width="15.6" height="58.75" fill="rgba(250,222,100,0.33)" stroke="rgba(250,215,90,0.35)" stroke-width="1"/>
<rect x="246.27" y="567.15" width="15.6" height="58.35" fill="rgba(250,222,100,0.33)" stroke="rgba(250,215,90,0.35)" stroke-width="1"/>
<rect x="267.20" y="567.55" width="15.6" height="57.95" fill="rgba(250,222,100,0.33)" stroke="rgba(250,215,90,0.35)" stroke-width="1"/>
<rect x="288.14" y="567.94" width="15.6" height="57.56" fill="rgba(250,222,100,0.33)" stroke="rgba(250,215,90,0.35)" stroke-width="1"/>
<rect x="309.08" y="568.34" width="15.6" height="57.16" fill="rgba(250,222,100,0.33)" stroke="rgba(250,215,90,0.35)" stroke-width="1"/>
<rect x="330.01" y="568.73" width="15.6" height="56.77" fill="rgba(250,222,100,0.33)" stroke="rgba(250,215,90,0.35)" stroke-width="1"/>
<rect x="350.95" y="569.13" width="15.6" height="56.37" fill="rgba(250,222,100,0.33)" stroke="rgba(250,215,90,0.35)" stroke-width="1"/>
<rect x="371.88" y="569.53" width="15.6" height="55.97" fill="rgba(250,222,100,0.33)" stroke="rgba(250,215,90,0.35)" stroke-width="1"/>
<rect x="392.82" y="569.92" width="15.6" height="55.58" fill="rgba(250,222,100,0.33)" stroke="rgba(250,215,90,0.35)" stroke-width="1"/>
<rect x="413.75" y="570.32" width="15.6" height="55.18" fill="rgba(250,222,100,0.33)" stroke="rgba(250,215,90,0.35)" stroke-width="1"/>
<rect x="434.69" y="570.72" width="15.6" height="54.78" fill="rgba(250,222,100,0.33)" stroke="rgba(250,215,90,0.35)" stroke-width="1"/>
<rect x="455.62" y="571.11" width="15.6" height="54.39" fill="rgba(250,222,100,0.33)" stroke="rgba(250,215,90,0.35)" stroke-width="1"/>
<rect x="476.56" y="571.51" width="15.6" height="53.99" fill="rgba(250,222,100,0.33)" stroke="rgba(250,215,90,0.35)" stroke-width="1"/>
<rect x="497.50" y="571.90" width="15.6" height="53.60" fill="rgba(250,222,100,0.33)" stroke="rgba(250,215,90,0.35)" stroke-width="1"/>
<rect x="518.43" y="572.30" width="15.6" height="53.20" fill="rgba(250,222,100,0.33)" stroke="rgba(250,215,90,0.35)" stroke-width="1"/>
<rect x="539.37" y="572.70" width="15.6" height="52.80" fill="rgba(250,222,100,0.33)" stroke="rgba(250,215,90,0.35)" stroke-width="1"/>
<rect x="560.30" y="573.09" width="15.6" height="52.41" fill="rgba(250,222,100,0.33)" stroke="rgba(250,215,90,0.35)" stroke-width="1"/>
<rect x="581.24" y="573.49" width="15.6" height="52.01" fill="rgba(250,222,100,0.33)" stroke="rgba(250,215,90,0.35)" stroke-width="1"/>
<rect x="602.17" y="573.89" width="15.6" height="51.61" fill="rgba(250,222,100,0.33)" stroke="rgba(250,215,90,0.35)" stroke-width="1"/>
<rect x="623.11" y="574.28" width="15.6" height="51.22" fill="rgba(250,222,100,0.33)" stroke="rgba(250,215,90,0.35)" stroke-width="1"/>
<rect x="644.04" y="574.68" width="15.6" height="50.82" fill="rgba(250,222,100,0.33)" stroke="rgba(250,215,90,0.35)" stroke-width="1"/>
<rect x="664.98" y="575.07" width="15.6" height="50.43" fill="rgba(250,222,100,0.33)" stroke="rgba(250,215,90,0.35)" stroke-width="1"/>
<rect x="685.91" y="575.47" width="15.6" height="50.03" fill="rgba(250,222,100,0.33)" stroke="rgba(250,215,90,0.35)" stroke-width="1"/>
<rect x="57.85" y="587.99" width="15.6" height="37.51" fill="rgba(254,218,40,0.93)" stroke="#f7cc2a" stroke-width="1"/>
<rect x="78.79" y="583.24" width="15.6" height="42.26" fill="rgba(254,218,40,0.93)" stroke="#f7cc2a" stroke-width="1"/>
<rect x="99.72" y="575.31" width="15.6" height="50.19" fill="rgba(254,218,40,0.93)" stroke="#f7cc2a" stroke-width="1"/>
<rect x="141.59" y="613.35" width="15.6" height="12.15" fill="rgba(254,218,40,0.93)" stroke="#f7cc2a" stroke-width="1"/>
<rect x="162.53" y="624.44" width="15.6" height="1.06" fill="rgba(254,218,40,0.93)" stroke="#f7cc2a" stroke-width="1"/>
<rect x="183.46" y="622.86" width="15.6" height="2.64" fill="rgba(254,218,40,0.93)" stroke="#f7cc2a" stroke-width="1"/>
<rect x="225.33" y="580.59" width="15.6" height="44.91" fill="rgba(254,218,40,0.93)" stroke="#f7cc2a" stroke-width="1"/>
<rect x="246.27" y="620.75" width="15.6" height="4.75" fill="rgba(254,218,40,0.93)" stroke="#f7cc2a" stroke-width="1"/>
<rect x="288.14" y="612.29" width="15.6" height="13.21" fill="rgba(254,218,40,0.93)" stroke="#f7cc2a" stroke-width="1"/>
<rect x="309.08" y="576.90" width="15.6" height="48.60" fill="rgba(254,218,40,0.93)" stroke="#f7cc2a" stroke-width="1"/>
<rect x="330.01" y="605.42" width="15.6" height="20.08" fill="rgba(254,218,40,0.93)" stroke="#f7cc2a" stroke-width="1"/>
<rect x="350.95" y="581.12" width="15.6" height="44.38" fill="rgba(254,218,40,0.93)" stroke="#f7cc2a" stroke-width="1"/>
<rect x="371.88" y="586.93" width="15.6" height="38.57" fill="rgba(254,218,40,0.93)" stroke="#f7cc2a" stroke-width="1"/>
<rect x="392.82" y="602.25" width="15.6" height="23.25" fill="rgba(254,218,40,0.93)" stroke="#f7cc2a" stroke-width="1"/>
<rect x="413.75" y="577.42" width="15.6" height="48.08" fill="rgba(254,218,40,0.93)" stroke="#f7cc2a" stroke-width="1"/>
<text x="65.47" y="585.29" font-size="9" fill="#b89f55" text-anchor="middle">7.1</text>
<text x="86.40" y="580.54" font-size="9" fill="#b89f55" text-anchor="middle">8.0</text>
<text x="107.34" y="572.61" font-size="9" fill="#b89f55" text-anchor="middle">9.5</text>
<text x="128.27" y="622.80" font-size="9" fill="#b89f55" text-anchor="middle">0</text>
<text x="149.21" y="610.65" font-size="9" fill="#b89f55" text-anchor="middle">2.3</text>
<text x="170.15" y="621.74" font-size="9" fill="#b89f55" text-anchor="middle">0.2</text>
<text x="191.08" y="620.16" font-size="9" fill="#b89f55" text-anchor="middle">0.5</text>
<text x="212.02" y="622.80" font-size="9" fill="#b89f55" text-anchor="middle">0</text>
<text x="232.95" y="577.89" font-size="9" fill="#b89f55" text-anchor="middle">8.5</text>
<text x="253.89" y="618.05" font-size="9" fill="#b89f55" text-anchor="middle">0.9</text>
<text x="274.82" y="622.80" font-size="9" fill="#b89f55" text-anchor="middle">0</text>
<text x="295.76" y="609.59" font-size="9" fill="#b89f55" text-anchor="middle">2.5</text>
<text x="316.69" y="574.20" font-size="9" fill="#b89f55" text-anchor="middle">9.2</text>
<text x="337.63" y="602.72" font-size="9" fill="#b89f55" text-anchor="middle">3.8</text>
<text x="358.56" y="578.42" font-size="9" fill="#b89f55" text-anchor="middle">8.4</text>
<text x="379.50" y="584.23" font-size="9" fill="#b89f55" text-anchor="middle">7.3</text>
<text x="400.44" y="599.55" font-size="9" fill="#b89f55" text-anchor="middle">4.4</text>
<text x="421.37" y="574.72" font-size="9" fill="#b89f55" text-anchor="middle">9.1</text>
<text x="442.31" y="622.80" font-size="9" fill="#b89f55" text-anchor="middle">0</text>
<text x="63.0" y="529.0" font-size="11" fill="#555" xml:space="preserve"><tspan>SDs: 81.7 h</tspan><tspan dx="12.0">SDm: 4.3 h</tspan><tspan dx="12.0">SDx: 9.5 h</tspan><tspan dx="12.0">SDn: 0.0 h</tspan></text>
<rect x="55.5" y="515.5" width="648.0" height="110" fill="none" stroke="#000" stroke-width="1.4"/>
<text x="52.2" y="534.21" font-size="12" fill="#333" text-anchor="end">18</text>
<text x="52.2" y="550.05" font-size="12" fill="#333" text-anchor="end">15</text>
<text x="52.2" y="565.90" font-size="12" fill="#333" text-anchor="end">12</text>
<text x="52.2" y="581.75" font-size="12" fill="#333" text-anchor="end">9</text>
<text x="52.2" y="597.60" font-size="12" fill="#333" text-anchor="end">6</text>
<text x="52.2" y="613.45" font-size="12" fill="#333" text-anchor="end">3</text>
<text x="52.2" y="629.30" font-size="12" fill="#333" text-anchor="end">0</text>
<text transform="translate(27.0,570.0) rotate(-90)" font-size="12" fill="#333" text-anchor="middle">Stunden</text>
<text transform="translate(719.5,570.0) rotate(-90)" font-size="12" fill="#333" text-anchor="middle">Sonnenscheindauer</text>
<text x="65.47" y="638.0" font-size="11" fill="#333" text-anchor="middle">1</text>
<text x="86.40" y="638.0" font-size="11" fill="#333" text-anchor="middle">2</text>
<text x="107.34" y="638.0" font-size="11" fill="#333" text-anchor="middle">3</text>
<text x="128.27" y="638.0" font-size="11" fill="#333" text-anchor="middle">4</text>
<text x="149.21" y="638.0" font-size="11" fill="#333" text-anchor="middle">5</text>
<text x="170.15" y="638.0" font-size="11" fill="#333" text-anchor="middle">6</text>
<text x="191.08" y="638.0" font-size="11" fill="#333" text-anchor="middle">7</text>
<text x="212.02" y="638.0" font-size="11" fill="#333" text-anchor="middle">8</text>
<text x="232.95" y="638.0" font-size="11" fill="#333" text-anchor="middle">9</text>
<text x="253.89" y="638.0" font-size="11" fill="#333" text-anchor="middle">10</text>
<text x="274.82" y="638.0" font-size="11" fill="#333" text-anchor="middle">11</text>
<text x="295.76" y="638.0" font-size="11" fill="#333" text-anchor="middle">12</text>
<text x="316.69" y="638.0" font-size="11" fill="#333" text-anchor="middle">13</text>
<text x="337.63" y="638.0" font-size="11" fill="#333" text-anchor="middle">14</text>
<text x="358.56" y="638.0" font-size="11" fill="#333" text-anchor="middle">15</text>
<text x="379.50" y="638.0" font-size="11" fill="#333" text-anchor="middle">16</text>
<text x="400.44" y="638.0" font-size="11" fill="#333" text-anchor="middle">17</text>
<text x="421.37" y="638.0" font-size="11" fill="#333" text-anchor="middle">18</text>
<text x="442.31" y="638.0" font-size="11" fill="#333" text-anchor="middle">19</text>
<text x="463.24" y="638.0" font-size="11" fill="#333" text-anchor="middle">20</text>
<text x="484.18" y="638.0" font-size="11" fill="#333" text-anchor="middle">21</text>
<text x="505.11" y="638.0" font-size="11" fill="#333" text-anchor="middle">22</text>
<text x="526.05" y="638.0" font-size="11" fill="#333" text-anchor="middle">23</text>
<text x="546.98" y="638.0" font-size="11" fill="#333" text-anchor="middle">24</text>
<text x="567.92" y="638.0" font-size="11" fill="#333" text-anchor="middle">25</text>
<text x="588.85" y="638.0" font-size="11" fill="#333" text-anchor="middle">26</text>
<text x="609.79" y="638.0" font-size="11" fill="#333" text-anchor="middle">27</text>
<text x="630.73" y="638.0" font-size="11" fill="#333" text-anchor="middle">28</text>
<text x="651.66" y="638.0" font-size="11" fill="#333" text-anchor="middle">29</text>
<text x="672.60" y="638.0" font-size="11" fill="#333" text-anchor="middle">30</text>
<text x="693.53" y="638.0" font-size="11" fill="#333" text-anchor="middle">31</text>
<line x1="76" y1="645" x2="76" y2="725" stroke="#ebebeb" stroke-width="2"/>
<line x1="97" y1="645" x2="97" y2="725" stroke="#ebebeb" stroke-width="2"/>
<line x1="118" y1="645" x2="118" y2="725" stroke="#ebebeb" stroke-width="2"/>
<line x1="139" y1="645" x2="139" y2="725" stroke="#ebebeb" stroke-width="2"/>
<line x1="160" y1="645" x2="160" y2="725" stroke="#ebebeb" stroke-width="2"/>
<line x1="181" y1="645" x2="181" y2="725" stroke="#ebebeb" stroke-width="2"/>
<line x1="202" y1="645" x2="202" y2="725" stroke="#ebebeb" stroke-width="2"/>
<line x1="223" y1="645" x2="223" y2="725" stroke="#ebebeb" stroke-width="2"/>
<line x1="244" y1="645" x2="244" y2="725" stroke="#ebebeb" stroke-width="2"/>
<line x1="265" y1="645" x2="265" y2="725" stroke="#ebebeb" stroke-width="2"/>
<line x1="285" y1="645" x2="285" y2="725" stroke="#ebebeb" stroke-width="2"/>
<line x1="306" y1="645" x2="306" y2="725" stroke="#ebebeb" stroke-width="2"/>
<line x1="327" y1="645" x2="327" y2="725" stroke="#ebebeb" stroke-width="2"/>
<line x1="348" y1="645" x2="348" y2="725" stroke="#ebebeb" stroke-width="2"/>
<line x1="369" y1="645" x2="369" y2="725" stroke="#ebebeb" stroke-width="2"/>
<line x1="390" y1="645" x2="390" y2="725" stroke="#ebebeb" stroke-width="2"/>
<line x1="411" y1="645" x2="411" y2="725" stroke="#ebebeb" stroke-width="2"/>
<line x1="432" y1="645" x2="432" y2="725" stroke="#ebebeb" stroke-width="2"/>
<line x1="474" y1="645" x2="474" y2="725" stroke="#ebebeb" stroke-width="2"/>
<line x1="494" y1="645" x2="494" y2="725" stroke="#ebebeb" stroke-width="2"/>
<line x1="515" y1="645" x2="515" y2="725" stroke="#ebebeb" stroke-width="2"/>
<line x1="536" y1="645" x2="536" y2="725" stroke="#ebebeb" stroke-width="2"/>
<line x1="557" y1="645" x2="557" y2="725" stroke="#ebebeb" stroke-width="2"/>
<line x1="578" y1="645" x2="578" y2="725" stroke="#ebebeb" stroke-width="2"/>
<line x1="599" y1="645" x2="599" y2="725" stroke="#ebebeb" stroke-width="2"/>
<line x1="620" y1="645" x2="620" y2="725" stroke="#ebebeb" stroke-width="2"/>
<line x1="641" y1="645" x2="641" y2="725" stroke="#ebebeb" stroke-width="2"/>
<line x1="662" y1="645" x2="662" y2="725" stroke="#ebebeb" stroke-width="2"/>
<line x1="683" y1="645" x2="683" y2="725" stroke="#ebebeb" stroke-width="2"/>
<line x1="57.0" y1="717.28" x2="702.0" y2="717.28" stroke="#f1f1f1" stroke-width="1.2"/>
<line x1="57.0" y1="701.05" x2="702.0" y2="701.05" stroke="#f1f1f1" stroke-width="1.2"/>
<line x1="57.0" y1="684.81" x2="702.0" y2="684.81" stroke="#f1f1f1" stroke-width="1.2"/>
<line x1="57.0" y1="668.58" x2="702.0" y2="668.58" stroke="#f1f1f1" stroke-width="1.2"/>
<line x1="57.0" y1="652.35" x2="702.0" y2="652.35" stroke="#f1f1f1" stroke-width="1.2"/>
<line x1="55.0" y1="709.17" x2="704.0" y2="709.17" stroke="#d9d9d9" stroke-width="1.2"/>
<line x1="55.0" y1="692.93" x2="704.0" y2="692.93" stroke="#d9d9d9" stroke-width="1.2"/>
<line x1="55.0" y1="676.70" x2="704.0" y2="676.70" stroke="#d9d9d9" stroke-width="1.2"/>
<line x1="55.0" y1="660.46" x2="704.0" y2="660.46" stroke="#d9d9d9" stroke-width="1.2"/>
<line x1="452.77" y1="645" x2="452.77" y2="725" stroke="#f3adad" stroke-width="1.1" stroke-dasharray="3,1.2"/>
<rect x="57.85" y="685.63" width="15.6" height="39.77" fill="#ffffff" stroke="#9a9a9a" stroke-width="1"/>
<rect x="57.85" y="660.46" width="15.6" height="25.16" fill="rgba(90,130,230,0.66)" stroke="#6f93e8" stroke-width="1"/>
<rect x="78.79" y="697.80" width="15.6" height="27.60" fill="#ffffff" stroke="#9a9a9a" stroke-width="1"/>
<rect x="78.79" y="660.46" width="15.6" height="37.34" fill="rgba(90,130,230,0.66)" stroke="#6f93e8" stroke-width="1"/>
<rect x="99.72" y="708.35" width="15.6" height="17.05" fill="#ffffff" stroke="#9a9a9a" stroke-width="1"/>
<rect x="99.72" y="660.46" width="15.6" height="47.89" fill="rgba(90,130,230,0.66)" stroke="#6f93e8" stroke-width="1"/>
<rect x="120.66" y="672.64" width="15.6" height="52.76" fill="#ffffff" stroke="#9a9a9a" stroke-width="1"/>
<rect x="120.66" y="660.46" width="15.6" height="12.18" fill="rgba(90,130,230,0.66)" stroke="#6f93e8" stroke-width="1"/>
<rect x="141.59" y="662.90" width="15.6" height="62.50" fill="#ffffff" stroke="#9a9a9a" stroke-width="1"/>
<rect x="141.59" y="660.46" width="15.6" height="2.44" fill="rgba(90,130,230,0.66)" stroke="#6f93e8" stroke-width="1"/>
<rect x="162.53" y="662.09" width="15.6" height="63.31" fill="#ffffff" stroke="#9a9a9a" stroke-width="1"/>
<rect x="162.53" y="660.46" width="15.6" height="1.62" fill="rgba(90,130,230,0.66)" stroke="#6f93e8" stroke-width="1"/>
<rect x="183.46" y="661.28" width="15.6" height="64.12" fill="#ffffff" stroke="#9a9a9a" stroke-width="1"/>
<rect x="183.46" y="660.46" width="15.6" height="0.81" fill="rgba(90,130,230,0.66)" stroke="#6f93e8" stroke-width="1"/>
<rect x="204.40" y="661.28" width="15.6" height="64.12" fill="#ffffff" stroke="#9a9a9a" stroke-width="1"/>
<rect x="204.40" y="660.46" width="15.6" height="0.81" fill="rgba(90,130,230,0.66)" stroke="#6f93e8" stroke-width="1"/>
<rect x="225.33" y="679.13" width="15.6" height="46.27" fill="#ffffff" stroke="#9a9a9a" stroke-width="1"/>
<rect x="225.33" y="660.46" width="15.6" height="18.67" fill="rgba(90,130,230,0.66)" stroke="#6f93e8" stroke-width="1"/>
<rect x="246.27" y="669.39" width="15.6" height="56.01" fill="#ffffff" stroke="#9a9a9a" stroke-width="1"/>
<rect x="246.27" y="660.46" width="15.6" height="8.93" fill="rgba(90,130,230,0.66)" stroke="#6f93e8" stroke-width="1"/>
<rect x="267.20" y="661.28" width="15.6" height="64.12" fill="#ffffff" stroke="#9a9a9a" stroke-width="1"/>
<rect x="267.20" y="660.46" width="15.6" height="0.81" fill="rgba(90,130,230,0.66)" stroke="#6f93e8" stroke-width="1"/>
<rect x="288.14" y="677.51" width="15.6" height="47.89" fill="#ffffff" stroke="#9a9a9a" stroke-width="1"/>
<rect x="288.14" y="660.46" width="15.6" height="17.05" fill="rgba(90,130,230,0.66)" stroke="#6f93e8" stroke-width="1"/>
<rect x="309.08" y="694.56" width="15.6" height="30.84" fill="#ffffff" stroke="#9a9a9a" stroke-width="1"/>
<rect x="309.08" y="660.46" width="15.6" height="34.09" fill="rgba(90,130,230,0.66)" stroke="#6f93e8" stroke-width="1"/>
<rect x="330.01" y="660.46" width="15.6" height="64.94" fill="#ffffff" stroke="#9a9a9a" stroke-width="1"/>
<text x="65.47" y="694.43" font-size="9" fill="#777" text-anchor="middle">4.9</text>
<text x="86.40" y="706.60" font-size="9" fill="#777" text-anchor="middle">3.4</text>
<text x="107.34" y="717.15" font-size="9" fill="#777" text-anchor="middle">2.1</text>
<text x="128.27" y="681.44" font-size="9" fill="#777" text-anchor="middle">6.5</text>
<text x="149.21" y="671.70" font-size="9" fill="#777" text-anchor="middle">7.7</text>
<text x="170.15" y="670.89" font-size="9" fill="#777" text-anchor="middle">7.8</text>
<text x="191.08" y="670.08" font-size="9" fill="#777" text-anchor="middle">7.9</text>
<text x="212.02" y="670.08" font-size="9" fill="#777" text-anchor="middle">7.9</text>
<text x="232.95" y="687.93" font-size="9" fill="#777" text-anchor="middle">5.7</text>
<text x="253.89" y="678.19" font-size="9" fill="#777" text-anchor="middle">6.9</text>
<text x="274.82" y="670.08" font-size="9" fill="#777" text-anchor="middle">7.9</text>
<text x="295.76" y="686.31" font-size="9" fill="#777" text-anchor="middle">5.9</text>
<text x="316.69" y="703.36" font-size="9" fill="#777" text-anchor="middle">3.8</text>
<text x="337.63" y="669.26" font-size="9" fill="#777" text-anchor="middle">8.0</text>
<text x="63.0" y="656.4" font-size="11" fill="#555" xml:space="preserve"><tspan>Nm: 6.1 Achtel</tspan><tspan dx="12.0">Nmx: 8.0 Achtel</tspan><tspan dx="12.0">Nmn: 2.1 Achtel</tspan></text>
<rect x="55.5" y="645.5" width="648.0" height="80" fill="none" stroke="#000" stroke-width="1.4"/>
<text x="52.2" y="664.26" font-size="12" fill="#333" text-anchor="end">8</text>
<text x="52.2" y="680.50" font-size="12" fill="#333" text-anchor="end">6</text>
<text x="52.2" y="696.73" font-size="12" fill="#333" text-anchor="end">4</text>
<text x="52.2" y="712.97" font-size="12" fill="#333" text-anchor="end">2</text>
<text x="52.2" y="729.20" font-size="12" fill="#333" text-anchor="end">0</text>
<text transform="translate(27.0,685.0) rotate(-90)" font-size="12" fill="#333" text-anchor="middle">Achtel</text>
<text transform="translate(719.5,685.0) rotate(-90)" font-size="12" fill="#333" text-anchor="middle">Bedeckungsgrad</text>
<text x="65.47" y="738.0" font-size="11" fill="#333" text-anchor="middle">1</text>
<text x="86.40" y="738.0" font-size="11" fill="#333" text-anchor="middle">2</text>
<text x="107.34" y="738.0" font-size="11" fill="#333" text-anchor="middle">3</text>
<text x="128.27" y="738.0" font-size="11" fill="#333" text-anchor="middle">4</text>
<text x="149.21" y="738.0" font-size="11" fill="#333" text-anchor="middle">5</text>
<text x="170.15" y="738.0" font-size="11" fill="#333" text-anchor="middle">6</text>
<text x="191.08" y="738.0" font-size="11" fill="#333" text-anchor="middle">7</text>
<text x="212.02" y="738.0" font-size="11" fill="#333" text-anchor="middle">8</text>
<text x="232.95" y="738.0" font-size="11" fill="#333" text-anchor="middle">9</text>
<text x="253.89" y="738.0" font-size="11" fill="#333" text-anchor="middle">10</text>
<text x="274.82" y="738.0" font-size="11" fill="#333" text-anchor="middle">11</text>
<text x="295.76" y="738.0" font-size="11" fill="#333" text-anchor="middle">12</text>
<text x="316.69" y="738.0" font-size="11" fill="#333" text-anchor="middle">13</text>
<text x="337.63" y="738.0" font-size="11" fill="#333" text-anchor="middle">14</text>
<text x="358.56" y="738.0" font-size="11" fill="#333" text-anchor="middle">15</text>
<text x="379.50" y="738.0" font-size="11" fill="#333" text-anchor="middle">16</text>
<text x="400.44" y="738.0" font-size="11" fill="#333" text-anchor="middle">17</text>
<text x="421.37" y="738.0" font-size="11" fill="#333" text-anchor="middle">18</text>
<text x="442.31" y="738.0" font-size="11" fill="#333" text-anchor="middle">19</text>
<text x="463.24" y="738.0" font-size="11" fill="#333" text-anchor="middle">20</text>
<text x="484.18" y="738.0" font-size="11" fill="#333" text-anchor="middle">21</text>
<text x="505.11" y="738.0" font-size="11" fill="#333" text-anchor="middle">22</text>
<text x="526.05" y="738.0" font-size="11" fill="#333" text-anchor="middle">23</text>
<text x="546.98" y="738.0" font-size="11" fill="#333" text-anchor="middle">24</text>
<text x="567.92" y="738.0" font-size="11" fill="#333" text-anchor="middle">25</text>
<text x="588.85" y="738.0" font-size="11" fill="#333" text-anchor="middle">26</text>
<text x="609.79" y="738.0" font-size="11" fill="#333" text-anchor="middle">27</text>
<text x="630.73" y="738.0" font-size="11" fill="#333" text-anchor="middle">28</text>
<text x="651.66" y="738.0" font-size="11" fill="#333" text-anchor="middle">29</text>
<text x="672.60" y="738.0" font-size="11" fill="#333" text-anchor="middle">30</text>
<text x="693.53" y="738.0" font-size="11" fill="#333" text-anchor="middle">31</text>
<line x1="76" y1="745" x2="76" y2="825" stroke="#ebebeb" stroke-width="2"/>
<line x1="97" y1="745" x2="97" y2="825" stroke="#ebebeb" stroke-width="2"/>
<line x1="118" y1="745" x2="118" y2="825" stroke="#ebebeb" stroke-width="2"/>
<line x1="139" y1="745" x2="139" y2="825" stroke="#ebebeb" stroke-width="2"/>
<line x1="160" y1="745" x2="160" y2="825" stroke="#ebebeb" stroke-width="2"/>
<line x1="181" y1="745" x2="181" y2="825" stroke="#ebebeb" stroke-width="2"/>
<line x1="202" y1="745" x2="202" y2="825" stroke="#ebebeb" stroke-width="2"/>
<line x1="223" y1="745" x2="223" y2="825" stroke="#ebebeb" stroke-width="2"/>
<line x1="244" y1="745" x2="244" y2="825" stroke="#ebebeb" stroke-width="2"/>
<line x1="265" y1="745" x2="265" y2="825" stroke="#ebebeb" stroke-width="2"/>
<line x1="285" y1="745" x2="285" y2="825" stroke="#ebebeb" stroke-width="2"/>
<line x1="306" y1="745" x2="306" y2="825" stroke="#ebebeb" stroke-width="2"/>
<line x1="327" y1="745" x2="327" y2="825" stroke="#ebebeb" stroke-width="2"/>
<line x1="348" y1="745" x2="348" y2="825" stroke="#ebebeb" stroke-width="2"/>
<line x1="369" y1="745" x2="369" y2="825" stroke="#ebebeb" stroke-width="2"/>
<line x1="390" y1="745" x2="390" y2="825" stroke="#ebebeb" stroke-width="2"/>
<line x1="411" y1="745" x2="411" y2="825" stroke="#ebebeb" stroke-width="2"/>
<line x1="432" y1="745" x2="432" y2="825" stroke="#ebebeb" stroke-width="2"/>
<line x1="474" y1="745" x2="474" y2="825" stroke="#ebebeb" stroke-width="2"/>
<line x1="494" y1="745" x2="494" y2="825" stroke="#ebebeb" stroke-width="2"/>
<line x1="515" y1="745" x2="515" y2="825" stroke="#ebebeb" stroke-width="2"/>
<line x1="536" y1="745" x2="536" y2="825" stroke="#ebebeb" stroke-width="2"/>
<line x1="557" y1="745" x2="557" y2="825" stroke="#ebebeb" stroke-width="2"/>
<line x1="578" y1="745" x2="578" y2="825" stroke="#ebebeb" stroke-width="2"/>
<line x1="599" y1="745" x2="599" y2="825" stroke="#ebebeb" stroke-width="2"/>
<line x1="620" y1="745" x2="620" y2="825" stroke="#ebebeb" stroke-width="2"/>
<line x1="641" y1="745" x2="641" y2="825" stroke="#ebebeb" stroke-width="2"/>
<line x1="662" y1="745" x2="662" y2="825" stroke="#ebebeb" stroke-width="2"/>
<line x1="683" y1="745" x2="683" y2="825" stroke="#ebebeb" stroke-width="2"/>
<line x1="57.0" y1="822.46" x2="702.0" y2="822.46" stroke="#f1f1f1" stroke-width="1.2"/>
<line x1="57.0" y1="819.22" x2="702.0" y2="819.22" stroke="#f1f1f1" stroke-width="1.2"/>
<line x1="57.0" y1="815.98" x2="702.0" y2="815.98" stroke="#f1f1f1" stroke-width="1.2"/>
<line x1="57.0" y1="812.74" x2="702.0" y2="812.74" stroke="#f1f1f1" stroke-width="1.2"/>
<line x1="57.0" y1="806.26" x2="702.0" y2="806.26" stroke="#f1f1f1" stroke-width="1.2"/>
<line x1="57.0" y1="803.02" x2="702.0" y2="803.02" stroke="#f1f1f1" stroke-width="1.2"/>
<line x1="57.0" y1="799.78" x2="702.0" y2="799.78" stroke="#f1f1f1" stroke-width="1.2"/>
<line x1="57.0" y1="796.54" x2="702.0" y2="796.54" stroke="#f1f1f1" stroke-width="1.2"/>
<line x1="57.0" y1="790.06" x2="702.0" y2="790.06" stroke="#f1f1f1" stroke-width="1.2"/>
<line x1="57.0" y1="786.82" x2="702.0" y2="786.82" stroke="#f1f1f1" stroke-width="1.2"/>
<line x1="57.0" y1="783.58" x2="702.0" y2="783.58" stroke="#f1f1f1" stroke-width="1.2"/>
<line x1="57.0" y1="780.34" x2="702.0" y2="780.34" stroke="#f1f1f1" stroke-width="1.2"/>
<line x1="57.0" y1="773.86" x2="702.0" y2="773.86" stroke="#f1f1f1" stroke-width="1.2"/>
<line x1="57.0" y1="770.62" x2="702.0" y2="770.62" stroke="#f1f1f1" stroke-width="1.2"/>
<line x1="57.0" y1="767.38" x2="702.0" y2="767.38" stroke="#f1f1f1" stroke-width="1.2"/>
<line x1="57.0" y1="764.14" x2="702.0" y2="764.14" stroke="#f1f1f1" stroke-width="1.2"/>
<line x1="57.0" y1="757.66" x2="702.0" y2="757.66" stroke="#f1f1f1" stroke-width="1.2"/>
<line x1="57.0" y1="754.42" x2="702.0" y2="754.42" stroke="#f1f1f1" stroke-width="1.2"/>
<line x1="57.0" y1="751.18" x2="702.0" y2="751.18" stroke="#f1f1f1" stroke-width="1.2"/>
<line x1="57.0" y1="747.94" x2="702.0" y2="747.94" stroke="#f1f1f1" stroke-width="1.2"/>
<line x1="55.0" y1="809.50" x2="704.0" y2="809.50" stroke="#d9d9d9" stroke-width="1.2"/>
<line x1="55.0" y1="793.30" x2="704.0" y2="793.30" stroke="#d9d9d9" stroke-width="1.2"/>
<line x1="55.0" y1="777.10" x2="704.0" y2="777.10" stroke="#d9d9d9" stroke-width="1.2"/>
<line x1="55.0" y1="760.90" x2="704.0" y2="760.90" stroke="#d9d9d9" stroke-width="1.2"/>
<line x1="452.77" y1="745" x2="452.77" y2="825" stroke="#f3adad" stroke-width="1.1" stroke-dasharray="3,1.2"/>
<rect x="57.85" y="780.53" width="15.6" height="5.90" fill="rgba(90,130,230,0.5)" stroke="#8fa9ec" stroke-width="1"/>
<rect x="57.85" y="772.76" width="15.6" height="7.78" fill="rgba(90,130,230,0.7)" stroke="#5f88e6" stroke-width="1"/>
<line x1="57.85" y1="780.53" x2="73.45" y2="780.53" stroke="#4674e0" stroke-width="1.0"/>
<rect x="78.79" y="779.30" width="15.6" height="6.29" fill="rgba(90,130,230,0.5)" stroke="#8fa9ec" stroke-width="1"/>
<rect x="78.79" y="771.53" width="15.6" height="7.78" fill="rgba(90,130,230,0.7)" stroke="#5f88e6" stroke-width="1"/>
<line x1="78.79" y1="779.30" x2="94.39" y2="779.30" stroke="#4674e0" stroke-width="1.0"/>
<rect x="99.72" y="780.53" width="15.6" height="9.14" fill="rgba(90,130,230,0.5)" stroke="#8fa9ec" stroke-width="1"/>
<rect x="99.72" y="771.98" width="15.6" height="8.55" fill="rgba(90,130,230,0.7)" stroke="#5f88e6" stroke-width="1"/>
<line x1="99.72" y1="780.53" x2="115.32" y2="780.53" stroke="#4674e0" stroke-width="1.0"/>
<rect x="120.66" y="771.33" width="15.6" height="10.17" fill="rgba(90,130,230,0.5)" stroke="#8fa9ec" stroke-width="1"/>
<rect x="120.66" y="763.62" width="15.6" height="7.71" fill="rgba(90,130,230,0.7)" stroke="#5f88e6" stroke-width="1"/>
<line x1="120.66" y1="771.33" x2="136.26" y2="771.33" stroke="#4674e0" stroke-width="1.0"/>
<rect x="141.59" y="772.56" width="15.6" height="5.70" fill="rgba(90,130,230,0.5)" stroke="#8fa9ec" stroke-width="1"/>
<rect x="141.59" y="762.26" width="15.6" height="10.30" fill="rgba(90,130,230,0.7)" stroke="#5f88e6" stroke-width="1"/>
<line x1="141.59" y1="772.56" x2="157.19" y2="772.56" stroke="#4674e0" stroke-width="1.0"/>
<rect x="162.53" y="767.25" width="15.6" height="4.15" fill="rgba(90,130,230,0.5)" stroke="#8fa9ec" stroke-width="1"/>
<rect x="162.53" y="761.16" width="15.6" height="6.09" fill="rgba(90,130,230,0.7)" stroke="#5f88e6" stroke-width="1"/>
<line x1="162.53" y1="767.25" x2="178.13" y2="767.25" stroke="#4674e0" stroke-width="1.0"/>
<rect x="183.46" y="763.95" width="15.6" height="5.64" fill="rgba(90,130,230,0.5)" stroke="#8fa9ec" stroke-width="1"/>
<rect x="183.46" y="761.16" width="15.6" height="2.79" fill="rgba(90,130,230,0.7)" stroke="#5f88e6" stroke-width="1"/>
<line x1="183.46" y1="763.95" x2="199.06" y2="763.95" stroke="#4674e0" stroke-width="1.0"/>
<rect x="204.40" y="762.65" width="15.6" height="2.92" fill="rgba(90,130,230,0.5)" stroke="#8fa9ec" stroke-width="1"/>
<rect x="204.40" y="760.90" width="15.6" height="1.75" fill="rgba(90,130,230,0.7)" stroke="#5f88e6" stroke-width="1"/>
<line x1="204.40" y1="762.65" x2="220.00" y2="762.65" stroke="#4674e0" stroke-width="1.0"/>
<rect x="225.33" y="770.23" width="15.6" height="9.27" fill="rgba(90,130,230,0.5)" stroke="#8fa9ec" stroke-width="1"/>
<rect x="225.33" y="761.03" width="15.6" height="9.20" fill="rgba(90,130,230,0.7)" stroke="#5f88e6" stroke-width="1"/>
<line x1="225.33" y1="770.23" x2="240.93" y2="770.23" stroke="#4674e0" stroke-width="1.0"/>
<rect x="246.27" y="771.33" width="15.6" height="3.82" fill="rgba(90,130,230,0.5)" stroke="#8fa9ec" stroke-width="1"/>
<rect x="246.27" y="765.95" width="15.6" height="5.38" fill="rgba(90,130,230,0.7)" stroke="#5f88e6" stroke-width="1"/>
<line x1="246.27" y1="771.33" x2="261.87" y2="771.33" stroke="#4674e0" stroke-width="1.0"/>
<rect x="267.20" y="771.33" width="15.6" height="4.28" fill="rgba(90,130,230,0.5)" stroke="#8fa9ec" stroke-width="1"/>
<rect x="267.20" y="766.60" width="15.6" height="4.73" fill="rgba(90,130,230,0.7)" stroke="#5f88e6" stroke-width="1"/>
<line x1="267.20" y1="771.33" x2="282.80" y2="771.33" stroke="#4674e0" stroke-width="1.0"/>
<rect x="288.14" y="767.38" width="15.6" height="12.51" fill="rgba(90,130,230,0.5)" stroke="#8fa9ec" stroke-width="1"/>
<rect x="288.14" y="761.81" width="15.6" height="5.57" fill="rgba(90,130,230,0.7)" stroke="#5f88e6" stroke-width="1"/>
<line x1="288.14" y1="767.38" x2="303.74" y2="767.38" stroke="#4674e0" stroke-width="1.0"/>
<rect x="309.08" y="777.42" width="15.6" height="8.94" fill="rgba(90,130,230,0.5)" stroke="#8fa9ec" stroke-width="1"/>
<rect x="309.08" y="767.96" width="15.6" height="9.46" fill="rgba(90,130,230,0.7)" stroke="#5f88e6" stroke-width="1"/>
<line x1="309.08" y1="777.42" x2="324.68" y2="777.42" stroke="#4674e0" stroke-width="1.0"/>
<rect x="330.01" y="767.38" width="15.6" height="7.19" fill="rgba(90,130,230,0.5)" stroke="#8fa9ec" stroke-width="1"/>
<rect x="330.01" y="761.03" width="15.6" height="6.35" fill="rgba(90,130,230,0.7)" stroke="#5f88e6" stroke-width="1"/>
<line x1="330.01" y1="767.38" x2="345.61" y2="767.38" stroke="#4674e0" stroke-width="1.0"/>
<rect x="350.95" y="768.22" width="15.6" height="8.16" fill="rgba(90,130,230,0.5)" stroke="#8fa9ec" stroke-width="1"/>
<rect x="350.95" y="761.74" width="15.6" height="6.48" fill="rgba(90,130,230,0.7)" stroke="#5f88e6" stroke-width="1"/>
<line x1="350.95" y1="768.22" x2="366.55" y2="768.22" stroke="#4674e0" stroke-width="1.0"/>
<rect x="371.88" y="768.22" width="15.6" height="7.52" fill="rgba(90,130,230,0.5)" stroke="#8fa9ec" stroke-width="1"/>
<rect x="371.88" y="762.46" width="15.6" height="5.77" fill="rgba(90,130,230,0.7)" stroke="#5f88e6" stroke-width="1"/>
<line x1="371.88" y1="768.22" x2="387.48" y2="768.22" stroke="#4674e0" stroke-width="1.0"/>
<rect x="392.82" y="773.28" width="15.6" height="9.53" fill="rgba(90,130,230,0.5)" stroke="#8fa9ec" stroke-width="1"/>
<rect x="392.82" y="764.59" width="15.6" height="8.68" fill="rgba(90,130,230,0.7)" stroke="#5f88e6" stroke-width="1"/>
<line x1="392.82" y1="773.28" x2="408.42" y2="773.28" stroke="#4674e0" stroke-width="1.0"/>
<rect x="413.75" y="781.18" width="15.6" height="7.13" fill="rgba(90,130,230,0.5)" stroke="#8fa9ec" stroke-width="1"/>
<rect x="413.75" y="776.06" width="15.6" height="5.12" fill="rgba(90,130,230,0.7)" stroke="#5f88e6" stroke-width="1"/>
<line x1="413.75" y1="781.18" x2="429.35" y2="781.18" stroke="#4674e0" stroke-width="1.0"/>
<rect x="434.69" y="775.87" width="15.6" height="3.69" fill="rgba(90,130,230,0.5)" stroke="#8fa9ec" stroke-width="1"/>
<rect x="434.69" y="772.18" width="15.6" height="3.69" fill="rgba(90,130,230,0.7)" stroke="#5f88e6" stroke-width="1"/>
<line x1="434.69" y1="775.87" x2="450.29" y2="775.87" stroke="#4674e0" stroke-width="1.0"/>
<text x="65.47" y="770.16" font-size="9" fill="#7d9de8" text-anchor="middle">81.7</text>
<text x="65.47" y="794.83" font-size="9" fill="#93afe9" text-anchor="middle">60.6</text>
<text x="86.40" y="768.93" font-size="9" fill="#7d9de8" text-anchor="middle">83.6</text>
<text x="86.40" y="793.99" font-size="9" fill="#93afe9" text-anchor="middle">61.9</text>
<text x="107.34" y="769.38" font-size="9" fill="#7d9de8" text-anchor="middle">82.9</text>
<text x="107.34" y="798.07" font-size="9" fill="#93afe9" text-anchor="middle">55.6</text>
<text x="128.27" y="761.02" font-size="9" fill="#7d9de8" text-anchor="middle">95.8</text>
<text x="128.27" y="789.91" font-size="9" fill="#93afe9" text-anchor="middle">68.2</text>
<text x="149.21" y="759.66" font-size="9" fill="#7d9de8" text-anchor="middle">97.9</text>
<text x="149.21" y="786.67" font-size="9" fill="#93afe9" text-anchor="middle">73.2</text>
<text x="170.15" y="758.56" font-size="9" fill="#7d9de8" text-anchor="middle">99.6</text>
<text x="170.15" y="779.80" font-size="9" fill="#93afe9" text-anchor="middle">83.8</text>
<text x="191.08" y="758.56" font-size="9" fill="#7d9de8" text-anchor="middle">99.6</text>
<text x="191.08" y="777.98" font-size="9" fill="#93afe9" text-anchor="middle">86.6</text>
<text x="212.02" y="758.30" font-size="9" fill="#7d9de8" text-anchor="middle">100</text>
<text x="212.02" y="773.97" font-size="9" fill="#93afe9" text-anchor="middle">92.8</text>
<text x="232.95" y="758.43" font-size="9" fill="#7d9de8" text-anchor="middle">99.8</text>
<text x="232.95" y="787.90" font-size="9" fill="#93afe9" text-anchor="middle">71.3</text>
<text x="253.89" y="763.35" font-size="9" fill="#7d9de8" text-anchor="middle">92.2</text>
<text x="253.89" y="783.56" font-size="9" fill="#93afe9" text-anchor="middle">78.0</text>
<text x="274.82" y="764.00" font-size="9" fill="#7d9de8" text-anchor="middle">91.2</text>
<text x="274.82" y="784.01" font-size="9" fill="#93afe9" text-anchor="middle">77.3</text>
<text x="295.76" y="759.21" font-size="9" fill="#7d9de8" text-anchor="middle">98.6</text>
<text x="295.76" y="788.29" font-size="9" fill="#93afe9" text-anchor="middle">70.7</text>
<text x="316.69" y="765.36" font-size="9" fill="#7d9de8" text-anchor="middle">89.1</text>
<text x="316.69" y="794.77" font-size="9" fill="#93afe9" text-anchor="middle">60.7</text>
<text x="337.63" y="758.43" font-size="9" fill="#7d9de8" text-anchor="middle">99.8</text>
<text x="337.63" y="782.97" font-size="9" fill="#93afe9" text-anchor="middle">78.9</text>
<text x="358.56" y="759.14" font-size="9" fill="#7d9de8" text-anchor="middle">98.7</text>
<text x="358.56" y="784.79" font-size="9" fill="#93afe9" text-anchor="middle">76.1</text>
<text x="379.50" y="759.86" font-size="9" fill="#7d9de8" text-anchor="middle">97.6</text>
<text x="379.50" y="784.14" font-size="9" fill="#93afe9" text-anchor="middle">77.1</text>
<text x="400.44" y="761.99" font-size="9" fill="#7d9de8" text-anchor="middle">94.3</text>
<text x="400.44" y="791.20" font-size="9" fill="#93afe9" text-anchor="middle">66.2</text>
<text x="421.37" y="773.46" font-size="9" fill="#7d9de8" text-anchor="middle">76.6</text>
<text x="421.37" y="796.71" font-size="9" fill="#93afe9" text-anchor="middle">57.7</text>
<text x="442.31" y="769.58" font-size="9" fill="#7d9de8" text-anchor="middle">82.6</text>
<text x="442.31" y="787.96" font-size="9" fill="#93afe9" text-anchor="middle">71.2</text>
<text x="63.0" y="756.4" font-size="11" fill="#333" xml:space="preserve"><tspan>Um: 82.8 %</tspan><tspan dx="12.0">Uxx: 100.0 %</tspan><tspan dx="12.0">Unn: 55.6 %</tspan><tspan dx="12.0">Umx: 97.9 %</tspan><tspan dx="12.0">Umn: 68.7 %</tspan></text>
<rect x="55.5" y="745.5" width="648.0" height="80" fill="none" stroke="#000" stroke-width="1.4"/>
<text x="52.2" y="764.70" font-size="12" fill="#333" text-anchor="end">100</text>
<text x="52.2" y="780.90" font-size="12" fill="#333" text-anchor="end">75</text>
<text x="52.2" y="797.10" font-size="12" fill="#333" text-anchor="end">50</text>
<text x="52.2" y="813.30" font-size="12" fill="#333" text-anchor="end">25</text>
<text x="52.2" y="829.50" font-size="12" fill="#333" text-anchor="end">0</text>
<text transform="translate(27.0,785.0) rotate(-90)" font-size="12" fill="#333" text-anchor="middle">Prozent</text>
<text transform="translate(719.5,785.0) rotate(-90)" font-size="12" fill="#333" text-anchor="middle">Luftfeuchte</text>
<text x="65.47" y="838.0" font-size="11" fill="#333" text-anchor="middle">1</text>
<text x="86.40" y="838.0" font-size="11" fill="#333" text-anchor="middle">2</text>
<text x="107.34" y="838.0" font-size="11" fill="#333" text-anchor="middle">3</text>
<text x="128.27" y="838.0" font-size="11" fill="#333" text-anchor="middle">4</text>
<text x="149.21" y="838.0" font-size="11" fill="#333" text-anchor="middle">5</text>
<text x="170.15" y="838.0" font-size="11" fill="#333" text-anchor="middle">6</text>
<text x="191.08" y="838.0" font-size="11" fill="#333" text-anchor="middle">7</text>
<text x="212.02" y="838.0" font-size="11" fill="#333" text-anchor="middle">8</text>
<text x="232.95" y="838.0" font-size="11" fill="#333" text-anchor="middle">9</text>
<text x="253.89" y="838.0" font-size="11" fill="#333" text-anchor="middle">10</text>
<text x="274.82" y="838.0" font-size="11" fill="#333" text-anchor="middle">11</text>
<text x="295.76" y="838.0" font-size="11" fill="#333" text-anchor="middle">12</text>
<text x="316.69" y="838.0" font-size="11" fill="#333" text-anchor="middle">13</text>
<text x="337.63" y="838.0" font-size="11" fill="#333" text-anchor="middle">14</text>
<text x="358.56" y="838.0" font-size="11" fill="#333" text-anchor="middle">15</text>
<text x="379.50" y="838.0" font-size="11" fill="#333" text-anchor="middle">16</text>
<text x="400.44" y="838.0" font-size="11" fill="#333" text-anchor="middle">17</text>
<text x="421.37" y="838.0" font-size="11" fill="#333" text-anchor="middle">18</text>
<text x="442.31" y="838.0" font-size="11" fill="#333" text-anchor="middle">19</text>
<text x="463.24" y="838.0" font-size="11" fill="#333" text-anchor="middle">20</text>
<text x="484.18" y="838.0" font-size="11" fill="#333" text-anchor="middle">21</text>
<text x="505.11" y="838.0" font-size="11" fill="#333" text-anchor="middle">22</text>
<text x="526.05" y="838.0" font-size="11" fill="#333" text-anchor="middle">23</text>
<text x="546.98" y="838.0" font-size="11" fill="#333" text-anchor="middle">24</text>
<text x="567.92" y="838.0" font-size="11" fill="#333" text-anchor="middle">25</text>
<text x="588.85" y="838.0" font-size="11" fill="#333" text-anchor="middle">26</text>
<text x="609.79" y="838.0" font-size="11" fill="#333" text-anchor="middle">27</text>
<text x="630.73" y="838.0" font-size="11" fill="#333" text-anchor="middle">28</text>
<text x="651.66" y="838.0" font-size="11" fill="#333" text-anchor="middle">29</text>
<text x="672.60" y="838.0" font-size="11" fill="#333" text-anchor="middle">30</text>
<text x="693.53" y="838.0" font-size="11" fill="#333" text-anchor="middle">31</text>
<line x1="76" y1="845" x2="76" y2="965" stroke="#ebebeb" stroke-width="2"/>
<line x1="97" y1="845" x2="97" y2="965" stroke="#ebebeb" stroke-width="2"/>
<line x1="118" y1="845" x2="118" y2="965" stroke="#ebebeb" stroke-width="2"/>
<line x1="139" y1="845" x2="139" y2="965" stroke="#ebebeb" stroke-width="2"/>
<line x1="160" y1="845" x2="160" y2="965" stroke="#ebebeb" stroke-width="2"/>
<line x1="181" y1="845" x2="181" y2="965" stroke="#ebebeb" stroke-width="2"/>
<line x1="202" y1="845" x2="202" y2="965" stroke="#ebebeb" stroke-width="2"/>
<line x1="223" y1="845" x2="223" y2="965" stroke="#ebebeb" stroke-width="2"/>
<line x1="244" y1="845" x2="244" y2="965" stroke="#ebebeb" stroke-width="2"/>
<line x1="265" y1="845" x2="265" y2="965" stroke="#ebebeb" stroke-width="2"/>
<line x1="285" y1="845" x2="285" y2="965" stroke="#ebebeb" stroke-width="2"/>
<line x1="306" y1="845" x2="306" y2="965" stroke="#ebebeb" stroke-width="2"/>
<line x1="327" y1="845" x2="327" y2="965" stroke="#ebebeb" stroke-width="2"/>
<line x1="348" y1="845" x2="348" y2="965" stroke="#ebebeb" stroke-width="2"/>
<line x1="369" y1="845" x2="369" y2="965" stroke="#ebebeb" stroke-width="2"/>
<line x1="390" y1="845" x2="390" y2="965" stroke="#ebebeb" stroke-width="2"/>
<line x1="411" y1="845" x2="411" y2="965" stroke="#ebebeb" stroke-width="2"/>
<line x1="432" y1="845" x2="432" y2="965" stroke="#ebebeb" stroke-width="2"/>
<line x1="474" y1="845" x2="474" y2="965" stroke="#ebebeb" stroke-width="2"/>
<line x1="494" y1="845" x2="494" y2="965" stroke="#ebebeb" stroke-width="2"/>
<line x1="515" y1="845" x2="515" y2="965" stroke="#ebebeb" stroke-width="2"/>
<line x1="536" y1="845" x2="536" y2="965" stroke="#ebebeb" stroke-width="2"/>
<line x1="557" y1="845" x2="557" y2="965" stroke="#ebebeb" stroke-width="2"/>
<line x1="578" y1="845" x2="578" y2="965" stroke="#ebebeb" stroke-width="2"/>
<line x1="599" y1="845" x2="599" y2="965" stroke="#ebebeb" stroke-width="2"/>
<line x1="620" y1="845" x2="620" y2="965" stroke="#ebebeb" stroke-width="2"/>
<line x1="641" y1="845" x2="641" y2="965" stroke="#ebebeb" stroke-width="2"/>
<line x1="662" y1="845" x2="662" y2="965" stroke="#ebebeb" stroke-width="2"/>
<line x1="683" y1="845" x2="683" y2="965" stroke="#ebebeb" stroke-width="2"/>
<line x1="57.0" y1="962.07" x2="702.0" y2="962.07" stroke="#f1f1f1" stroke-width="1.2"/>
<line x1="57.0" y1="958.64" x2="702.0" y2="958.64" stroke="#f1f1f1" stroke-width="1.2"/>
<line x1="57.0" y1="955.21" x2="702.0" y2="955.21" stroke="#f1f1f1" stroke-width="1.2"/>
<line x1="57.0" y1="951.79" x2="702.0" y2="951.79" stroke="#f1f1f1" stroke-width="1.2"/>
<line x1="57.0" y1="944.93" x2="702.0" y2="944.93" stroke="#f1f1f1" stroke-width="1.2"/>
<line x1="57.0" y1="941.50" x2="702.0" y2="941.50" stroke="#f1f1f1" stroke-width="1.2"/>
<line x1="57.0" y1="938.07" x2="702.0" y2="938.07" stroke="#f1f1f1" stroke-width="1.2"/>
<line x1="57.0" y1="934.64" x2="702.0" y2="934.64" stroke="#f1f1f1" stroke-width="1.2"/>
<line x1="57.0" y1="927.79" x2="702.0" y2="927.79" stroke="#f1f1f1" stroke-width="1.2"/>
<line x1="57.0" y1="924.36" x2="702.0" y2="924.36" stroke="#f1f1f1" stroke-width="1.2"/>
<line x1="57.0" y1="920.93" x2="702.0" y2="920.93" stroke="#f1f1f1" stroke-width="1.2"/>
<line x1="57.0" y1="917.50" x2="702.0" y2="917.50" stroke="#f1f1f1" stroke-width="1.2"/>
<line x1="57.0" y1="910.64" x2="702.0" y2="910.64" stroke="#f1f1f1" stroke-width="1.2"/>
<line x1="57.0" y1="907.21" x2="702.0" y2="907.21" stroke="#f1f1f1" stroke-width="1.2"/>
<line x1="57.0" y1="903.79" x2="702.0" y2="903.79" stroke="#f1f1f1" stroke-width="1.2"/>
<line x1="57.0" y1="900.36" x2="702.0" y2="900.36" stroke="#f1f1f1" stroke-width="1.2"/>
<line x1="57.0" y1="893.50" x2="702.0" y2="893.50" stroke="#f1f1f1" stroke-width="1.2"/>
<line x1="57.0" y1="890.07" x2="702.0" y2="890.07" stroke="#f1f1f1" stroke-width="1.2"/>
<line x1="57.0" y1="886.64" x2="702.0" y2="886.64" stroke="#f1f1f1" stroke-width="1.2"/>
<line x1="57.0" y1="883.21" x2="702.0" y2="883.21" stroke="#f1f1f1" stroke-width="1.2"/>
<line x1="57.0" y1="876.36" x2="702.0" y2="876.36" stroke="#f1f1f1" stroke-width="1.2"/>
<line x1="57.0" y1="872.93" x2="702.0" y2="872.93" stroke="#f1f1f1" stroke-width="1.2"/>
<line x1="57.0" y1="869.50" x2="702.0" y2="869.50" stroke="#f1f1f1" stroke-width="1.2"/>
<line x1="57.0" y1="866.07" x2="702.0" y2="866.07" stroke="#f1f1f1" stroke-width="1.2"/>
<line x1="57.0" y1="859.21" x2="702.0" y2="859.21" stroke="#f1f1f1" stroke-width="1.2"/>
<line x1="57.0" y1="855.79" x2="702.0" y2="855.79" stroke="#f1f1f1" stroke-width="1.2"/>
<line x1="57.0" y1="852.36" x2="702.0" y2="852.36" stroke="#f1f1f1" stroke-width="1.2"/>
<line x1="57.0" y1="848.93" x2="702.0" y2="848.93" stroke="#f1f1f1" stroke-width="1.2"/>
<line x1="55.0" y1="948.36" x2="704.0" y2="948.36" stroke="#d9d9d9" stroke-width="1.2"/>
<line x1="55.0" y1="931.21" x2="704.0" y2="931.21" stroke="#d9d9d9" stroke-width="1.2"/>
<line x1="55.0" y1="914.07" x2="704.0" y2="914.07" stroke="#d9d9d9" stroke-width="1.2"/>
<line x1="55.0" y1="896.93" x2="704.0" y2="896.93" stroke="#d9d9d9" stroke-width="1.2"/>
<line x1="55.0" y1="879.79" x2="704.0" y2="879.79" stroke="#d9d9d9" stroke-width="1.2"/>
<line x1="55.0" y1="862.64" x2="704.0" y2="862.64" stroke="#d9d9d9" stroke-width="1.2"/>
<line x1="452.77" y1="845" x2="452.77" y2="965" stroke="#f3adad" stroke-width="1.1" stroke-dasharray="3,1.2"/>
<rect x="57.85" y="874.64" width="15.6" height="1.89" fill="rgba(90,130,230,0.5)" stroke="#8fa9ec" stroke-width="1"/>
<rect x="57.85" y="872.76" width="15.6" height="1.89" fill="rgba(90,130,230,0.7)" stroke="#5f88e6" stroke-width="1"/>
<line x1="57.85" y1="874.64" x2="73.45" y2="874.64" stroke="#4674e0" stroke-width="1.0"/>
<rect x="78.79" y="877.90" width="15.6" height="5.14" fill="rgba(90,130,230,0.5)" stroke="#8fa9ec" stroke-width="1"/>
<rect x="78.79" y="874.47" width="15.6" height="3.43" fill="rgba(90,130,230,0.7)" stroke="#5f88e6" stroke-width="1"/>
<line x1="78.79" y1="877.90" x2="94.39" y2="877.90" stroke="#4674e0" stroke-width="1.0"/>
<rect x="99.72" y="890.76" width="15.6" height="14.57" fill="rgba(90,130,230,0.5)" stroke="#8fa9ec" stroke-width="1"/>
<rect x="99.72" y="883.04" width="15.6" height="7.71" fill="rgba(90,130,230,0.7)" stroke="#5f88e6" stroke-width="1"/>
<line x1="99.72" y1="890.76" x2="115.32" y2="890.76" stroke="#4674e0" stroke-width="1.0"/>
<rect x="120.66" y="933.96" width="15.6" height="11.14" fill="rgba(90,130,230,0.5)" stroke="#8fa9ec" stroke-width="1"/>
<rect x="120.66" y="905.67" width="15.6" height="28.29" fill="rgba(90,130,230,0.7)" stroke="#5f88e6" stroke-width="1"/>
<line x1="120.66" y1="933.96" x2="136.26" y2="933.96" stroke="#4674e0" stroke-width="1.0"/>
<rect x="141.59" y="932.93" width="15.6" height="8.06" fill="rgba(90,130,230,0.5)" stroke="#8fa9ec" stroke-width="1"/>
<rect x="141.59" y="927.27" width="15.6" height="5.66" fill="rgba(90,130,230,0.7)" stroke="#5f88e6" stroke-width="1"/>
<line x1="141.59" y1="932.93" x2="157.19" y2="932.93" stroke="#4674e0" stroke-width="1.0"/>
<rect x="162.53" y="912.87" width="15.6" height="16.80" fill="rgba(90,130,230,0.5)" stroke="#8fa9ec" stroke-width="1"/>
<rect x="162.53" y="897.27" width="15.6" height="15.60" fill="rgba(90,130,230,0.7)" stroke="#5f88e6" stroke-width="1"/>
<line x1="162.53" y1="912.87" x2="178.13" y2="912.87" stroke="#4674e0" stroke-width="1.0"/>
<rect x="183.46" y="894.36" width="15.6" height="3.09" fill="rgba(90,130,230,0.5)" stroke="#8fa9ec" stroke-width="1"/>
<rect x="183.46" y="891.96" width="15.6" height="2.40" fill="rgba(90,130,230,0.7)" stroke="#5f88e6" stroke-width="1"/>
<line x1="183.46" y1="894.36" x2="199.06" y2="894.36" stroke="#4674e0" stroke-width="1.0"/>
<rect x="204.40" y="898.99" width="15.6" height="1.54" fill="rgba(90,130,230,0.5)" stroke="#8fa9ec" stroke-width="1"/>
<rect x="204.40" y="897.61" width="15.6" height="1.37" fill="rgba(90,130,230,0.7)" stroke="#5f88e6" stroke-width="1"/>
<line x1="204.40" y1="898.99" x2="220.00" y2="898.99" stroke="#4674e0" stroke-width="1.0"/>
<rect x="225.33" y="898.47" width="15.6" height="1.54" fill="rgba(90,130,230,0.5)" stroke="#8fa9ec" stroke-width="1"/>
<rect x="225.33" y="896.24" width="15.6" height="2.23" fill="rgba(90,130,230,0.7)" stroke="#5f88e6" stroke-width="1"/>
<line x1="225.33" y1="898.47" x2="240.93" y2="898.47" stroke="#4674e0" stroke-width="1.0"/>
<rect x="246.27" y="892.13" width="15.6" height="7.20" fill="rgba(90,130,230,0.5)" stroke="#8fa9ec" stroke-width="1"/>
<rect x="246.27" y="889.73" width="15.6" height="2.40" fill="rgba(90,130,230,0.7)" stroke="#5f88e6" stroke-width="1"/>
<line x1="246.27" y1="892.13" x2="261.87" y2="892.13" stroke="#4674e0" stroke-width="1.0"/>
<rect x="267.20" y="888.36" width="15.6" height="2.91" fill="rgba(90,130,230,0.5)" stroke="#8fa9ec" stroke-width="1"/>
<rect x="267.20" y="885.27" width="15.6" height="3.09" fill="rgba(90,130,230,0.7)" stroke="#5f88e6" stroke-width="1"/>
<line x1="267.20" y1="888.36" x2="282.80" y2="888.36" stroke="#4674e0" stroke-width="1.0"/>
<rect x="288.14" y="890.24" width="15.6" height="2.06" fill="rgba(90,130,230,0.5)" stroke="#8fa9ec" stroke-width="1"/>
<rect x="288.14" y="887.16" width="15.6" height="3.09" fill="rgba(90,130,230,0.7)" stroke="#5f88e6" stroke-width="1"/>
<line x1="288.14" y1="890.24" x2="303.74" y2="890.24" stroke="#4674e0" stroke-width="1.0"/>
<rect x="309.08" y="888.36" width="15.6" height="3.94" fill="rgba(90,130,230,0.5)" stroke="#8fa9ec" stroke-width="1"/>
<rect x="309.08" y="884.93" width="15.6" height="3.43" fill="rgba(90,130,230,0.7)" stroke="#5f88e6" stroke-width="1"/>
<line x1="309.08" y1="888.36" x2="324.68" y2="888.36" stroke="#4674e0" stroke-width="1.0"/>
<rect x="330.01" y="893.16" width="15.6" height="3.26" fill="rgba(90,130,230,0.5)" stroke="#8fa9ec" stroke-width="1"/>
<rect x="330.01" y="890.59" width="15.6" height="2.57" fill="rgba(90,130,230,0.7)" stroke="#5f88e6" stroke-width="1"/>
<line x1="330.01" y1="893.16" x2="345.61" y2="893.16" stroke="#4674e0" stroke-width="1.0"/>
<rect x="350.95" y="891.96" width="15.6" height="6.51" fill="rgba(90,130,230,0.5)" stroke="#8fa9ec" stroke-width="1"/>
<rect x="350.95" y="889.73" width="15.6" height="2.23" fill="rgba(90,130,230,0.7)" stroke="#5f88e6" stroke-width="1"/>
<line x1="350.95" y1="891.96" x2="366.55" y2="891.96" stroke="#4674e0" stroke-width="1.0"/>
<rect x="371.88" y="900.36" width="15.6" height="2.06" fill="rgba(90,130,230,0.5)" stroke="#8fa9ec" stroke-width="1"/>
<rect x="371.88" y="898.64" width="15.6" height="1.71" fill="rgba(90,130,230,0.7)" stroke="#5f88e6" stroke-width="1"/>
<line x1="371.88" y1="900.36" x2="387.48" y2="900.36" stroke="#4674e0" stroke-width="1.0"/>
<rect x="392.82" y="902.76" width="15.6" height="1.54" fill="rgba(90,130,230,0.5)" stroke="#8fa9ec" stroke-width="1"/>
<rect x="392.82" y="895.04" width="15.6" height="7.71" fill="rgba(90,130,230,0.7)" stroke="#5f88e6" stroke-width="1"/>
<line x1="392.82" y1="902.76" x2="408.42" y2="902.76" stroke="#4674e0" stroke-width="1.0"/>
<rect x="413.75" y="886.64" width="15.6" height="8.23" fill="rgba(90,130,230,0.5)" stroke="#8fa9ec" stroke-width="1"/>
<rect x="413.75" y="883.56" width="15.6" height="3.09" fill="rgba(90,130,230,0.7)" stroke="#5f88e6" stroke-width="1"/>
<line x1="413.75" y1="886.64" x2="429.35" y2="886.64" stroke="#4674e0" stroke-width="1.0"/>
<rect x="434.69" y="886.64" width="15.6" height="1.03" fill="rgba(90,130,230,0.5)" stroke="#8fa9ec" stroke-width="1"/>
<rect x="434.69" y="885.61" width="15.6" height="1.03" fill="rgba(90,130,230,0.7)" stroke="#5f88e6" stroke-width="1"/>
<line x1="434.69" y1="886.64" x2="450.29" y2="886.64" stroke="#4674e0" stroke-width="1.0"/>
<text x="65.47" y="870.16" font-size="9" fill="#7d9de8" text-anchor="middle">34.1</text>
<text x="65.47" y="886.13" font-size="9" fill="#93afe9" text-anchor="middle">31.9</text>
<text x="86.40" y="871.87" font-size="9" fill="#7d9de8" text-anchor="middle">33.1</text>
<text x="86.40" y="892.64" font-size="9" fill="#93afe9" text-anchor="middle">28.1</text>
<text x="107.34" y="880.44" font-size="9" fill="#7d9de8" text-anchor="middle">28.1</text>
<text x="107.34" y="914.93" font-size="9" fill="#93afe9" text-anchor="middle">15.1</text>
<text x="128.27" y="903.07" font-size="9" fill="#7d9de8" text-anchor="middle">14.9</text>
<text x="128.27" y="954.70" font-size="9" fill="#93afe9" text-anchor="middle">91.9</text>
<text x="149.21" y="924.67" font-size="9" fill="#7d9de8" text-anchor="middle">02.3</text>
<text x="149.21" y="950.59" font-size="9" fill="#93afe9" text-anchor="middle">94.3</text>
<text x="170.15" y="894.67" font-size="9" fill="#7d9de8" text-anchor="middle">19.8</text>
<text x="170.15" y="939.27" font-size="9" fill="#93afe9" text-anchor="middle">00.9</text>
<text x="191.08" y="889.36" font-size="9" fill="#7d9de8" text-anchor="middle">22.9</text>
<text x="191.08" y="907.04" font-size="9" fill="#93afe9" text-anchor="middle">19.7</text>
<text x="212.02" y="895.01" font-size="9" fill="#7d9de8" text-anchor="middle">19.6</text>
<text x="212.02" y="910.13" font-size="9" fill="#93afe9" text-anchor="middle">17.9</text>
<text x="232.95" y="893.64" font-size="9" fill="#7d9de8" text-anchor="middle">20.4</text>
<text x="232.95" y="909.61" font-size="9" fill="#93afe9" text-anchor="middle">18.2</text>
<text x="253.89" y="887.13" font-size="9" fill="#7d9de8" text-anchor="middle">24.2</text>
<text x="253.89" y="908.93" font-size="9" fill="#93afe9" text-anchor="middle">18.6</text>
<text x="274.82" y="882.67" font-size="9" fill="#7d9de8" text-anchor="middle">26.8</text>
<text x="274.82" y="900.87" font-size="9" fill="#93afe9" text-anchor="middle">23.3</text>
<text x="295.76" y="884.56" font-size="9" fill="#7d9de8" text-anchor="middle">25.7</text>
<text x="295.76" y="901.90" font-size="9" fill="#93afe9" text-anchor="middle">22.7</text>
<text x="316.69" y="882.33" font-size="9" fill="#7d9de8" text-anchor="middle">27.0</text>
<text x="316.69" y="901.90" font-size="9" fill="#93afe9" text-anchor="middle">22.7</text>
<text x="337.63" y="887.99" font-size="9" fill="#7d9de8" text-anchor="middle">23.7</text>
<text x="337.63" y="906.01" font-size="9" fill="#93afe9" text-anchor="middle">20.3</text>
<text x="358.56" y="887.13" font-size="9" fill="#7d9de8" text-anchor="middle">24.2</text>
<text x="358.56" y="908.07" font-size="9" fill="#93afe9" text-anchor="middle">19.1</text>
<text x="379.50" y="896.04" font-size="9" fill="#7d9de8" text-anchor="middle">19.0</text>
<text x="379.50" y="912.01" font-size="9" fill="#93afe9" text-anchor="middle">16.8</text>
<text x="400.44" y="892.44" font-size="9" fill="#7d9de8" text-anchor="middle">21.1</text>
<text x="400.44" y="913.90" font-size="9" fill="#93afe9" text-anchor="middle">15.7</text>
<text x="421.37" y="880.96" font-size="9" fill="#7d9de8" text-anchor="middle">27.8</text>
<text x="421.37" y="904.47" font-size="9" fill="#93afe9" text-anchor="middle">21.2</text>
<text x="442.31" y="883.01" font-size="9" fill="#7d9de8" text-anchor="middle">26.6</text>
<text x="442.31" y="897.27" font-size="9" fill="#93afe9" text-anchor="middle">25.4</text>
<text x="63.0" y="858.7" font-size="11" fill="#333" xml:space="preserve"><tspan>Pm: 1019.9 hPa</tspan><tspan dx="12.0">Pxx: 1034.1 hPa</tspan><tspan dx="12.0">Pnn: 991.9 hPa</tspan><tspan dx="12.0">Pmx: 1033.4 hPa</tspan><tspan dx="12.0">Pmn: 998.5 hPa</tspan></text>
<rect x="55.5" y="845.5" width="648.0" height="120" fill="none" stroke="#000" stroke-width="1.4"/>
<text x="52.2" y="849.30" font-size="12" fill="#333" text-anchor="end">1050</text>
<text x="52.2" y="866.44" font-size="12" fill="#333" text-anchor="end">1040</text>
<text x="52.2" y="883.59" font-size="12" fill="#333" text-anchor="end">1030</text>
<text x="52.2" y="900.73" font-size="12" fill="#333" text-anchor="end">1020</text>
<text x="52.2" y="917.87" font-size="12" fill="#333" text-anchor="end">1010</text>
<text x="52.2" y="935.01" font-size="12" fill="#333" text-anchor="end">1000</text>
<text x="52.2" y="952.16" font-size="12" fill="#333" text-anchor="end">990</text>
<text x="52.2" y="969.30" font-size="12" fill="#333" text-anchor="end">980</text>
<text transform="translate(20.5,905.0) rotate(-90)" font-size="12" fill="#333" text-anchor="middle">hPa</text>
<text transform="translate(719.5,905.0) rotate(-90)" font-size="12" fill="#333" text-anchor="middle">Luftdruck (NHN)</text>
<text x="65.47" y="978.0" font-size="11" fill="#333" text-anchor="middle">1</text>
<text x="86.40" y="978.0" font-size="11" fill="#333" text-anchor="middle">2</text>
<text x="107.34" y="978.0" font-size="11" fill="#333" text-anchor="middle">3</text>
<text x="128.27" y="978.0" font-size="11" fill="#333" text-anchor="middle">4</text>
<text x="149.21" y="978.0" font-size="11" fill="#333" text-anchor="middle">5</text>
<text x="170.15" y="978.0" font-size="11" fill="#333" text-anchor="middle">6</text>
<text x="191.08" y="978.0" font-size="11" fill="#333" text-anchor="middle">7</text>
<text x="212.02" y="978.0" font-size="11" fill="#333" text-anchor="middle">8</text>
<text x="232.95" y="978.0" font-size="11" fill="#333" text-anchor="middle">9</text>
<text x="253.89" y="978.0" font-size="11" fill="#333" text-anchor="middle">10</text>
<text x="274.82" y="978.0" font-size="11" fill="#333" text-anchor="middle">11</text>
<text x="295.76" y="978.0" font-size="11" fill="#333" text-anchor="middle">12</text>
<text x="316.69" y="978.0" font-size="11" fill="#333" text-anchor="middle">13</text>
<text x="337.63" y="978.0" font-size="11" fill="#333" text-anchor="middle">14</text>
<text x="358.56" y="978.0" font-size="11" fill="#333" text-anchor="middle">15</text>
<text x="379.50" y="978.0" font-size="11" fill="#333" text-anchor="middle">16</text>
<text x="400.44" y="978.0" font-size="11" fill="#333" text-anchor="middle">17</text>
<text x="421.37" y="978.0" font-size="11" fill="#333" text-anchor="middle">18</text>
<text x="442.31" y="978.0" font-size="11" fill="#333" text-anchor="middle">19</text>
<text x="463.24" y="978.0" font-size="11" fill="#333" text-anchor="middle">20</text>
<text x="484.18" y="978.0" font-size="11" fill="#333" text-anchor="middle">21</text>
<text x="505.11" y="978.0" font-size="11" fill="#333" text-anchor="middle">22</text>
<text x="526.05" y="978.0" font-size="11" fill="#333" text-anchor="middle">23</text>
<text x="546.98" y="978.0" font-size="11" fill="#333" text-anchor="middle">24</text>
<text x="567.92" y="978.0" font-size="11" fill="#333" text-anchor="middle">25</text>
<text x="588.85" y="978.0" font-size="11" fill="#333" text-anchor="middle">26</text>
<text x="609.79" y="978.0" font-size="11" fill="#333" text-anchor="middle">27</text>
<text x="630.73" y="978.0" font-size="11" fill="#333" text-anchor="middle">28</text>
<text x="651.66" y="978.0" font-size="11" fill="#333" text-anchor="middle">29</text>
<text x="672.60" y="978.0" font-size="11" fill="#333" text-anchor="middle">30</text>
<text x="693.53" y="978.0" font-size="11" fill="#333" text-anchor="middle">31</text>
<rect x="55.0" y="1134.83" width="649.0" height="10.67" fill="#f1fbfd"/>
<rect x="55.0" y="1124.17" width="649.0" height="10.67" fill="#eefcf8"/>
<rect x="55.0" y="1109.94" width="649.0" height="14.22" fill="#ecfcf2"/>
<rect x="55.0" y="1093.94" width="649.0" height="16.00" fill="#e9fbe7"/>
<rect x="55.0" y="1076.17" width="649.0" height="17.78" fill="#ebf9dc"/>
<rect x="55.0" y="1056.61" width="649.0" height="19.56" fill="#f0fadb"/>
<rect x="55.0" y="1035.28" width="649.0" height="21.33" fill="#f7fadb"/>
<rect x="55.0" y="1012.17" width="649.0" height="23.11" fill="#fcf6dc"/>
<rect x="55.0" y="987.28" width="649.0" height="24.89" fill="#fdecdc"/>
<rect x="55.0" y="985.50" width="649.0" height="1.78" fill="#fde6e0"/>
<line x1="55.0" y1="1134.83" x2="704.0" y2="1134.83" stroke="#c6ecdf" stroke-width="1"/>
<line x1="55.0" y1="1124.17" x2="704.0" y2="1124.17" stroke="#c6ecd4" stroke-width="1"/>
<line x1="55.0" y1="1109.94" x2="704.0" y2="1109.94" stroke="#cdeac6" stroke-width="1"/>
<line x1="55.0" y1="1093.94" x2="704.0" y2="1093.94" stroke="#d2e6c2" stroke-width="1"/>
<line x1="55.0" y1="1076.17" x2="704.0" y2="1076.17" stroke="#dae6c0" stroke-width="1"/>
<line x1="55.0" y1="1056.61" x2="704.0" y2="1056.61" stroke="#e2e5bf" stroke-width="1"/>
<line x1="55.0" y1="1035.28" x2="704.0" y2="1035.28" stroke="#eae0c0" stroke-width="1"/>
<line x1="55.0" y1="1012.17" x2="704.0" y2="1012.17" stroke="#efdac4" stroke-width="1"/>
<line x1="55.0" y1="987.28" x2="704.0" y2="987.28" stroke="#f2c8c0" stroke-width="1"/>
<line x1="76" y1="985" x2="76" y2="1145" stroke="#000" stroke-opacity="0.08" stroke-width="2"/>
<line x1="97" y1="985" x2="97" y2="1145" stroke="#000" stroke-opacity="0.08" stroke-width="2"/>
<line x1="118" y1="985" x2="118" y2="1145" stroke="#000" stroke-opacity="0.08" stroke-width="2"/>
<line x1="139" y1="985" x2="139" y2="1145" stroke="#000" stroke-opacity="0.08" stroke-width="2"/>
<line x1="160" y1="985" x2="160" y2="1145" stroke="#000" stroke-opacity="0.08" stroke-width="2"/>
<line x1="181" y1="985" x2="181" y2="1145" stroke="#000" stroke-opacity="0.08" stroke-width="2"/>
<line x1="202" y1="985" x2="202" y2="1145" stroke="#000" stroke-opacity="0.08" stroke-width="2"/>
<line x1="223" y1="985" x2="223" y2="1145" stroke="#000" stroke-opacity="0.08" stroke-width="2"/>
<line x1="244" y1="985" x2="244" y2="1145" stroke="#000" stroke-opacity="0.08" stroke-width="2"/>
<line x1="265" y1="985" x2="265" y2="1145" stroke="#000" stroke-opacity="0.08" stroke-width="2"/>
<line x1="285" y1="985" x2="285" y2="1145" stroke="#000" stroke-opacity="0.08" stroke-width="2"/>
<line x1="306" y1="985" x2="306" y2="1145" stroke="#000" stroke-opacity="0.08" stroke-width="2"/>
<line x1="327" y1="985" x2="327" y2="1145" stroke="#000" stroke-opacity="0.08" stroke-width="2"/>
<line x1="348" y1="985" x2="348" y2="1145" stroke="#000" stroke-opacity="0.08" stroke-width="2"/>
<line x1="369" y1="985" x2="369" y2="1145" stroke="#000" stroke-opacity="0.08" stroke-width="2"/>
<line x1="390" y1="985" x2="390" y2="1145" stroke="#000" stroke-opacity="0.08" stroke-width="2"/>
<line x1="411" y1="985" x2="411" y2="1145" stroke="#000" stroke-opacity="0.08" stroke-width="2"/>
<line x1="432" y1="985" x2="432" y2="1145" stroke="#000" stroke-opacity="0.08" stroke-width="2"/>
<line x1="474" y1="985" x2="474" y2="1145" stroke="#000" stroke-opacity="0.08" stroke-width="2"/>
<line x1="494" y1="985" x2="494" y2="1145" stroke="#000" stroke-opacity="0.08" stroke-width="2"/>
<line x1="515" y1="985" x2="515" y2="1145" stroke="#000" stroke-opacity="0.08" stroke-width="2"/>
<line x1="536" y1="985" x2="536" y2="1145" stroke="#000" stroke-opacity="0.08" stroke-width="2"/>
<line x1="557" y1="985" x2="557" y2="1145" stroke="#000" stroke-opacity="0.08" stroke-width="2"/>
<line x1="578" y1="985" x2="578" y2="1145" stroke="#000" stroke-opacity="0.08" stroke-width="2"/>
<line x1="599" y1="985" x2="599" y2="1145" stroke="#000" stroke-opacity="0.08" stroke-width="2"/>
<line x1="620" y1="985" x2="620" y2="1145" stroke="#000" stroke-opacity="0.08" stroke-width="2"/>
<line x1="641" y1="985" x2="641" y2="1145" stroke="#000" stroke-opacity="0.08" stroke-width="2"/>
<line x1="662" y1="985" x2="662" y2="1145" stroke="#000" stroke-opacity="0.08" stroke-width="2"/>
<line x1="683" y1="985" x2="683" y2="1145" stroke="#000" stroke-opacity="0.08" stroke-width="2"/>
<text x="135.8" y="1134.20" font-size="13" font-weight="bold" fill="#b4e6d7" text-anchor="middle">2</text>
<text x="135.8" y="1121.76" font-size="13" font-weight="bold" fill="#b9ebd2" text-anchor="middle">3</text>
<text x="135.8" y="1106.64" font-size="13" font-weight="bold" fill="#b4ebbe" text-anchor="middle">4</text>
<text x="135.8" y="1089.76" font-size="13" font-weight="bold" fill="#c8e1b9" text-anchor="middle">5</text>
<text x="135.8" y="1071.09" font-size="13" font-weight="bold" fill="#d8e5c1" text-anchor="middle">6</text>
<text x="135.8" y="1050.64" font-size="13" font-weight="bold" fill="#e0e2be" text-anchor="middle">7</text>
<text x="135.8" y="1028.42" font-size="13" font-weight="bold" fill="#e5dcbb" text-anchor="middle">8</text>
<text x="135.8" y="1004.42" font-size="13" font-weight="bold" fill="#eadac8" text-anchor="middle">9</text>
<text x="298.0" y="1134.20" font-size="13" font-weight="bold" fill="#b4e6d7" text-anchor="middle">2</text>
<text x="298.0" y="1121.76" font-size="13" font-weight="bold" fill="#b9ebd2" text-anchor="middle">3</text>
<text x="298.0" y="1106.64" font-size="13" font-weight="bold" fill="#b4ebbe" text-anchor="middle">4</text>
<text x="298.0" y="1089.76" font-size="13" font-weight="bold" fill="#c8e1b9" text-anchor="middle">5</text>
<text x="298.0" y="1071.09" font-size="13" font-weight="bold" fill="#d8e5c1" text-anchor="middle">6</text>
<text x="298.0" y="1050.64" font-size="13" font-weight="bold" fill="#e0e2be" text-anchor="middle">7</text>
<text x="298.0" y="1028.42" font-size="13" font-weight="bold" fill="#e5dcbb" text-anchor="middle">8</text>
<text x="298.0" y="1004.42" font-size="13" font-weight="bold" fill="#eadac8" text-anchor="middle">9</text>
<text x="460.0" y="1134.20" font-size="13" font-weight="bold" fill="#b4e6d7" text-anchor="middle">2</text>
<text x="460.0" y="1121.76" font-size="13" font-weight="bold" fill="#b9ebd2" text-anchor="middle">3</text>
<text x="460.0" y="1106.64" font-size="13" font-weight="bold" fill="#b4ebbe" text-anchor="middle">4</text>
<text x="460.0" y="1089.76" font-size="13" font-weight="bold" fill="#c8e1b9" text-anchor="middle">5</text>
<text x="460.0" y="1071.09" font-size="13" font-weight="bold" fill="#d8e5c1" text-anchor="middle">6</text>
<text x="460.0" y="1050.64" font-size="13" font-weight="bold" fill="#e0e2be" text-anchor="middle">7</text>
<text x="460.0" y="1028.42" font-size="13" font-weight="bold" fill="#e5dcbb" text-anchor="middle">8</text>
<text x="460.0" y="1004.42" font-size="13" font-weight="bold" fill="#eadac8" text-anchor="middle">9</text>
<text x="622.0" y="1134.20" font-size="13" font-weight="bold" fill="#b4e6d7" text-anchor="middle">2</text>
<text x="622.0" y="1121.76" font-size="13" font-weight="bold" fill="#b9ebd2" text-anchor="middle">3</text>
<text x="622.0" y="1106.64" font-size="13" font-weight="bold" fill="#b4ebbe" text-anchor="middle">4</text>
<text x="622.0" y="1089.76" font-size="13" font-weight="bold" fill="#c8e1b9" text-anchor="middle">5</text>
<text x="622.0" y="1071.09" font-size="13" font-weight="bold" fill="#d8e5c1" text-anchor="middle">6</text>
<text x="622.0" y="1050.64" font-size="13" font-weight="bold" fill="#e0e2be" text-anchor="middle">7</text>
<text x="622.0" y="1028.42" font-size="13" font-weight="bold" fill="#e5dcbb" text-anchor="middle">8</text>
<text x="622.0" y="1004.42" font-size="13" font-weight="bold" fill="#eadac8" text-anchor="middle">9</text>
<line x1="452.77" y1="985" x2="452.77" y2="1145" stroke="#f3adad" stroke-width="1.1"/>
<polyline points="65.47,1128.43 86.40,1121.68 107.34,1116.17 128.27,1075.99 149.21,1053.23 170.15,1068.34 191.08,1115.10 212.02,1110.30 232.95,1093.06 253.89,1066.03 274.82,1069.59 295.76,1094.12 316.69,1111.37 337.63,1117.77 358.56,1111.37 379.50,1089.50 400.44,1080.43 421.37,1096.97 442.31,1114.21" fill="none" stroke="#f7854a" stroke-width="1.1"/>
<circle cx="65.47" cy="1128.43" r="1.6" fill="#f7854a"/>
<circle cx="86.40" cy="1121.68" r="1.6" fill="#f7854a"/>
<circle cx="107.34" cy="1116.17" r="1.6" fill="#f7854a"/>
<circle cx="128.27" cy="1075.99" r="1.6" fill="#f7854a"/>
<circle cx="149.21" cy="1053.23" r="1.6" fill="#f7854a"/>
<circle cx="170.15" cy="1068.34" r="1.6" fill="#f7854a"/>
<circle cx="191.08" cy="1115.10" r="1.6" fill="#f7854a"/>
<circle cx="212.02" cy="1110.30" r="1.6" fill="#f7854a"/>
<circle cx="232.95" cy="1093.06" r="1.6" fill="#f7854a"/>
<circle cx="253.89" cy="1066.03" r="1.6" fill="#f7854a"/>
<circle cx="274.82" cy="1069.59" r="1.6" fill="#f7854a"/>
<circle cx="295.76" cy="1094.12" r="1.6" fill="#f7854a"/>
<circle cx="316.69" cy="1111.37" r="1.6" fill="#f7854a"/>
<circle cx="337.63" cy="1117.77" r="1.6" fill="#f7854a"/>
<circle cx="358.56" cy="1111.37" r="1.6" fill="#f7854a"/>
<circle cx="379.50" cy="1089.50" r="1.6" fill="#f7854a"/>
<circle cx="400.44" cy="1080.43" r="1.6" fill="#f7854a"/>
<circle cx="421.37" cy="1096.97" r="1.6" fill="#f7854a"/>
<circle cx="442.31" cy="1114.21" r="1.6" fill="#f7854a"/>
<text x="65.47" y="1125.33" font-size="9" fill="#f7854a" text-anchor="middle">9</text>
<text x="86.40" y="1118.58" font-size="9" fill="#f7854a" text-anchor="middle">13</text>
<text x="107.34" y="1113.07" font-size="9" fill="#f7854a" text-anchor="middle">16</text>
<text x="128.27" y="1072.89" font-size="9" fill="#f7854a" text-anchor="middle">39</text>
<text x="149.21" y="1050.13" font-size="9" fill="#f7854a" text-anchor="middle">51</text>
<text x="170.15" y="1065.24" font-size="9" fill="#f7854a" text-anchor="middle">43</text>
<text x="191.08" y="1112.00" font-size="9" fill="#f7854a" text-anchor="middle">17</text>
<text x="212.02" y="1107.20" font-size="9" fill="#f7854a" text-anchor="middle">19</text>
<text x="232.95" y="1089.96" font-size="9" fill="#f7854a" text-anchor="middle">29</text>
<text x="253.89" y="1062.93" font-size="9" fill="#f7854a" text-anchor="middle">44</text>
<text x="274.82" y="1066.49" font-size="9" fill="#f7854a" text-anchor="middle">42</text>
<text x="295.76" y="1091.02" font-size="9" fill="#f7854a" text-anchor="middle">28</text>
<text x="316.69" y="1108.27" font-size="9" fill="#f7854a" text-anchor="middle">19</text>
<text x="337.63" y="1114.67" font-size="9" fill="#f7854a" text-anchor="middle">15</text>
<text x="358.56" y="1108.27" font-size="9" fill="#f7854a" text-anchor="middle">19</text>
<text x="379.50" y="1086.40" font-size="9" fill="#f7854a" text-anchor="middle">31</text>
<text x="400.44" y="1077.33" font-size="9" fill="#f7854a" text-anchor="middle">36</text>
<text x="421.37" y="1093.87" font-size="9" fill="#f7854a" text-anchor="middle">27</text>
<text x="442.31" y="1111.11" font-size="9" fill="#f7854a" text-anchor="middle">17</text>
<polyline points="65.47,1097.68 86.40,1096.97 107.34,1058.39 128.27,1006.66 149.21,1007.90 170.15,1004.52 191.08,1096.26 212.02,1080.43 232.95,1044.70 253.89,1021.94 274.82,1018.21 295.76,1046.48 316.69,1085.94 337.63,1082.03 358.56,1059.99 379.50,1058.39 400.44,1029.06 421.37,1044.70 442.31,1100.34" fill="none" stroke="#cc2a8a" stroke-width="1.1"/>
<circle cx="65.47" cy="1097.68" r="1.6" fill="#cc2a8a"/>
<circle cx="86.40" cy="1096.97" r="1.6" fill="#cc2a8a"/>
<circle cx="107.34" cy="1058.39" r="1.6" fill="#cc2a8a"/>
<circle cx="128.27" cy="1006.66" r="1.6" fill="#cc2a8a"/>
<circle cx="149.21" cy="1007.90" r="1.6" fill="#cc2a8a"/>
<circle cx="170.15" cy="1004.52" r="1.6" fill="#cc2a8a"/>
<circle cx="191.08" cy="1096.26" r="1.6" fill="#cc2a8a"/>
<circle cx="212.02" cy="1080.43" r="1.6" fill="#cc2a8a"/>
<circle cx="232.95" cy="1044.70" r="1.6" fill="#cc2a8a"/>
<circle cx="253.89" cy="1021.94" r="1.6" fill="#cc2a8a"/>
<circle cx="274.82" cy="1018.21" r="1.6" fill="#cc2a8a"/>
<circle cx="295.76" cy="1046.48" r="1.6" fill="#cc2a8a"/>
<circle cx="316.69" cy="1085.94" r="1.6" fill="#cc2a8a"/>
<circle cx="337.63" cy="1082.03" r="1.6" fill="#cc2a8a"/>
<circle cx="358.56" cy="1059.99" r="1.6" fill="#cc2a8a"/>
<circle cx="379.50" cy="1058.39" r="1.6" fill="#cc2a8a"/>
<circle cx="400.44" cy="1029.06" r="1.6" fill="#cc2a8a"/>
<circle cx="421.37" cy="1044.70" r="1.6" fill="#cc2a8a"/>
<circle cx="442.31" cy="1100.34" r="1.6" fill="#cc2a8a"/>
<text x="65.47" y="1094.58" font-size="9" fill="#cc2a8a" text-anchor="middle">27</text>
<text x="86.40" y="1093.87" font-size="9" fill="#cc2a8a" text-anchor="middle">27</text>
<text x="107.34" y="1055.29" font-size="9" fill="#cc2a8a" text-anchor="middle">49</text>
<text x="128.27" y="1003.56" font-size="9" fill="#cc2a8a" text-anchor="middle">78</text>
<text x="149.21" y="1004.80" font-size="9" fill="#cc2a8a" text-anchor="middle">77</text>
<text x="170.15" y="1001.42" font-size="9" fill="#cc2a8a" text-anchor="middle">79</text>
<text x="191.08" y="1093.16" font-size="9" fill="#cc2a8a" text-anchor="middle">27</text>
<text x="212.02" y="1077.33" font-size="9" fill="#cc2a8a" text-anchor="middle">36</text>
<text x="232.95" y="1041.60" font-size="9" fill="#cc2a8a" text-anchor="middle">56</text>
<text x="253.89" y="1018.84" font-size="9" fill="#cc2a8a" text-anchor="middle">69</text>
<text x="274.82" y="1015.11" font-size="9" fill="#cc2a8a" text-anchor="middle">71</text>
<text x="295.76" y="1043.38" font-size="9" fill="#cc2a8a" text-anchor="middle">55</text>
<text x="316.69" y="1082.84" font-size="9" fill="#cc2a8a" text-anchor="middle">33</text>
<text x="337.63" y="1078.93" font-size="9" fill="#cc2a8a" text-anchor="middle">35</text>
<text x="358.56" y="1056.89" font-size="9" fill="#cc2a8a" text-anchor="middle">48</text>
<text x="379.50" y="1055.29" font-size="9" fill="#cc2a8a" text-anchor="middle">49</text>
<text x="400.44" y="1025.96" font-size="9" fill="#cc2a8a" text-anchor="middle">65</text>
<text x="421.37" y="1041.60" font-size="9" fill="#cc2a8a" text-anchor="middle">56</text>
<text x="442.31" y="1097.24" font-size="9" fill="#cc2a8a" text-anchor="middle">25</text>
<text x="63.0" y="999.0" font-size="11" fill="#555" xml:space="preserve"><tspan>Ff: 27.6 km/h</tspan><tspan dx="12.0">Fxm: 51.9 km/h</tspan><tspan dx="12.0">Fxx: 78.8 km/h</tspan><tspan dx="12.0">Fmx: 65.9 km/h</tspan><tspan dx="12.0">Ffx: 51.5 km/h</tspan><tspan dx="12.0">nFx≥12Bft: 0</tspan></text>
<rect x="55.5" y="985.5" width="648.0" height="160" fill="none" stroke="#000" stroke-width="1.4"/>
<text x="52.2" y="989.30" font-size="12" fill="#333" text-anchor="end">90</text>
<text x="52.2" y="1007.08" font-size="12" fill="#333" text-anchor="end">80</text>
<text x="52.2" y="1024.86" font-size="12" fill="#333" text-anchor="end">70</text>
<text x="52.2" y="1042.63" font-size="12" fill="#333" text-anchor="end">60</text>
<text x="52.2" y="1060.41" font-size="12" fill="#333" text-anchor="end">50</text>
<text x="52.2" y="1078.19" font-size="12" fill="#333" text-anchor="end">40</text>
<text x="52.2" y="1095.97" font-size="12" fill="#333" text-anchor="end">30</text>
<text x="52.2" y="1113.74" font-size="12" fill="#333" text-anchor="end">20</text>
<text x="52.2" y="1131.52" font-size="12" fill="#333" text-anchor="end">10</text>
<text x="52.2" y="1149.30" font-size="12" fill="#333" text-anchor="end">0</text>
<text transform="translate(27.0,1065.0) rotate(-90)" font-size="12" fill="#333" text-anchor="middle">km/h</text>
<text transform="translate(719.5,1065.0) rotate(-90)" font-size="12" fill="#333" text-anchor="middle">Windgeschwindigkeit</text>
<text x="65.47" y="1158.0" font-size="11" fill="#333" text-anchor="middle">1</text>
<text x="86.40" y="1158.0" font-size="11" fill="#333" text-anchor="middle">2</text>
<text x="107.34" y="1158.0" font-size="11" fill="#333" text-anchor="middle">3</text>
<text x="128.27" y="1158.0" font-size="11" fill="#333" text-anchor="middle">4</text>
<text x="149.21" y="1158.0" font-size="11" fill="#333" text-anchor="middle">5</text>
<text x="170.15" y="1158.0" font-size="11" fill="#333" text-anchor="middle">6</text>
<text x="191.08" y="1158.0" font-size="11" fill="#333" text-anchor="middle">7</text>
<text x="212.02" y="1158.0" font-size="11" fill="#333" text-anchor="middle">8</text>
<text x="232.95" y="1158.0" font-size="11" fill="#333" text-anchor="middle">9</text>
<text x="253.89" y="1158.0" font-size="11" fill="#333" text-anchor="middle">10</text>
<text x="274.82" y="1158.0" font-size="11" fill="#333" text-anchor="middle">11</text>
<text x="295.76" y="1158.0" font-size="11" fill="#333" text-anchor="middle">12</text>
<text x="316.69" y="1158.0" font-size="11" fill="#333" text-anchor="middle">13</text>
<text x="337.63" y="1158.0" font-size="11" fill="#333" text-anchor="middle">14</text>
<text x="358.56" y="1158.0" font-size="11" fill="#333" text-anchor="middle">15</text>
<text x="379.50" y="1158.0" font-size="11" fill="#333" text-anchor="middle">16</text>
<text x="400.44" y="1158.0" font-size="11" fill="#333" text-anchor="middle">17</text>
<text x="421.37" y="1158.0" font-size="11" fill="#333" text-anchor="middle">18</text>
<text x="442.31" y="1158.0" font-size="11" fill="#333" text-anchor="middle">19</text>
<text x="463.24" y="1158.0" font-size="11" fill="#333" text-anchor="middle">20</text>
<text x="484.18" y="1158.0" font-size="11" fill="#333" text-anchor="middle">21</text>
<text x="505.11" y="1158.0" font-size="11" fill="#333" text-anchor="middle">22</text>
<text x="526.05" y="1158.0" font-size="11" fill="#333" text-anchor="middle">23</text>
<text x="546.98" y="1158.0" font-size="11" fill="#333" text-anchor="middle">24</text>
<text x="567.92" y="1158.0" font-size="11" fill="#333" text-anchor="middle">25</text>
<text x="588.85" y="1158.0" font-size="11" fill="#333" text-anchor="middle">26</text>
<text x="609.79" y="1158.0" font-size="11" fill="#333" text-anchor="middle">27</text>
<text x="630.73" y="1158.0" font-size="11" fill="#333" text-anchor="middle">28</text>
<text x="651.66" y="1158.0" font-size="11" fill="#333" text-anchor="middle">29</text>
<text x="672.60" y="1158.0" font-size="11" fill="#333" text-anchor="middle">30</text>
<text x="693.53" y="1158.0" font-size="11" fill="#333" text-anchor="middle">31</text>
<text x="365" y="1171" font-size="11" fill="#999" text-anchor="middle">Datenbasis: Deutscher Wetterdienst, dwd.de | Meteogramm erstellt von mtwetter.de | 2025-10-19T03:26:49Z</text>
</svg>
</body></html>
